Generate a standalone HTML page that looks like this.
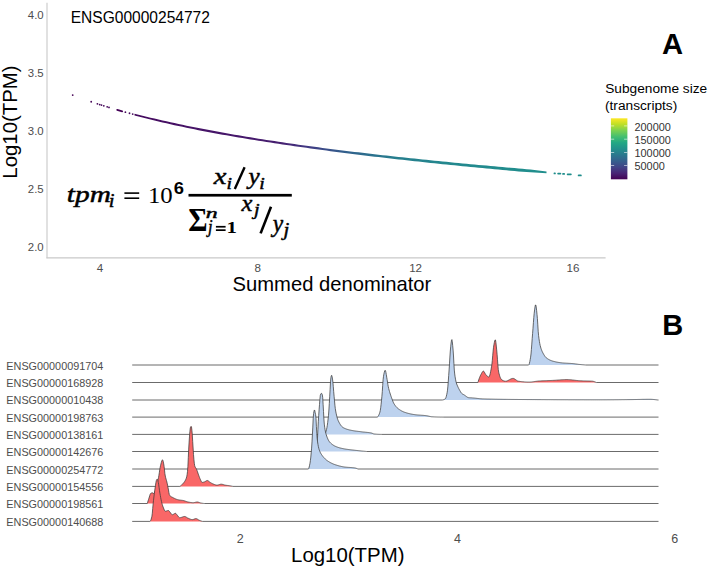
<!DOCTYPE html>
<html><head><meta charset="utf-8"><style>
html,body{margin:0;padding:0;background:#fff;}
svg{display:block;font-family:"Liberation Sans",sans-serif;}
</style></head><body>
<svg width="709" height="568" viewBox="0 0 709 568">
<defs>
<linearGradient id="vir" x1="0" y1="1" x2="0" y2="0">
<stop offset="0" stop-color="#440154"/><stop offset="0.1" stop-color="#482475"/><stop offset="0.2" stop-color="#414487"/><stop offset="0.3" stop-color="#355f8d"/><stop offset="0.4" stop-color="#2a788e"/><stop offset="0.5" stop-color="#21918c"/><stop offset="0.6" stop-color="#22a884"/><stop offset="0.7" stop-color="#44bf70"/><stop offset="0.8" stop-color="#7ad151"/><stop offset="0.9" stop-color="#bddf26"/><stop offset="1" stop-color="#fde725"/>
</linearGradient>
<linearGradient id="cg" gradientUnits="userSpaceOnUse" x1="72" y1="0" x2="582" y2="0">
<stop offset="0" stop-color="#440154"/>
<stop offset="0.22" stop-color="#461266"/>
<stop offset="0.349" stop-color="#46196c"/>
<stop offset="0.408" stop-color="#462070"/>
<stop offset="0.457" stop-color="#423782"/>
<stop offset="0.496" stop-color="#3a4d89"/>
<stop offset="0.535" stop-color="#325f8c"/>
<stop offset="0.584" stop-color="#2c708e"/>
<stop offset="0.633" stop-color="#277e8e"/>
<stop offset="0.741" stop-color="#23888e"/>
<stop offset="1" stop-color="#1f918c"/>
</linearGradient>
</defs>
<rect width="709" height="568" fill="#fff"/>
<!-- Panel A -->
<line x1="47" y1="2.7" x2="47" y2="258.3" stroke="#c9c9c9" stroke-width="1.1"/>
<line x1="46.45" y1="257.9" x2="605.6" y2="257.9" stroke="#c9c9c9" stroke-width="1.1"/>
<g fill="#4d4d4d" font-size="11.4" text-anchor="end">
<text x="43.7" y="19.4">4.0</text>
<text x="43.7" y="77.4">3.5</text>
<text x="43.7" y="135.4">3.0</text>
<text x="43.7" y="193.4">2.5</text>
<text x="43.7" y="251.4">2.0</text>
</g>
<g fill="#4d4d4d" font-size="11.6" text-anchor="middle">
<text x="100.1" y="271.6">4</text>
<text x="257.7" y="271.6">8</text>
<text x="415.6" y="271.6">12</text>
<text x="573" y="271.6">16</text>
</g>
<text x="232.6" y="290.6" font-size="20.2" fill="#000">Summed denominator</text>
<text transform="translate(16.9,178.7) rotate(-90)" font-size="20.4" fill="#000">Log10(TPM)</text>
<text x="70.7" y="23.2" font-size="15.6" textLength="139.2" lengthAdjust="spacingAndGlyphs" fill="#000">ENSG00000254772</text>
<text x="661.9" y="53.9" font-size="29.2" font-weight="bold" fill="#000">A</text>
<text x="605.2" y="92.8" font-size="13.7" fill="#000">Subgenome size</text>
<text x="605.0" y="110.2" font-size="13.7" fill="#000">(transcripts)</text>
<rect x="610.9" y="118.3" width="16.5" height="61" fill="url(#vir)"/>
<g stroke="#fff" stroke-width="0.8" stroke-opacity="0.7">
<line x1="610.9" y1="125.9" x2="614.2" y2="125.9"/><line x1="624.1" y1="125.9" x2="627.4" y2="125.9"/>
<line x1="610.9" y1="139.2" x2="614.2" y2="139.2"/><line x1="624.1" y1="139.2" x2="627.4" y2="139.2"/>
<line x1="610.9" y1="152.5" x2="614.2" y2="152.5"/><line x1="624.1" y1="152.5" x2="627.4" y2="152.5"/>
<line x1="610.9" y1="165.5" x2="614.2" y2="165.5"/><line x1="624.1" y1="165.5" x2="627.4" y2="165.5"/>
</g>
<g fill="#333" font-size="10.9">
<text x="634.5" y="130.9">200000</text>
<text x="634.5" y="143.9">150000</text>
<text x="634.5" y="156.9">100000</text>
<text x="634.5" y="169.9">50000</text>
</g>
<path d="M134.5,113.65 L138.5,114.68 L142.5,115.69 L146.5,116.68 L150.5,117.65 L154.5,118.61 L158.5,119.54 L162.5,120.46 L166.5,121.36 L170.5,122.24 L174.5,123.11 L178.5,123.97 L182.5,124.81 L186.5,125.64 L190.5,126.45 L194.5,127.25 L198.5,128.04 L202.5,128.81 L206.5,129.58 L210.5,130.34 L214.5,131.09 L218.5,131.82 L222.5,132.55 L226.5,133.26 L230.5,133.96 L234.5,134.66 L238.5,135.34 L242.5,136.02 L246.5,136.69 L250.5,137.35 L254.5,138 L258.5,138.64 L262.5,139.27 L266.5,139.9 L270.5,140.51 L274.5,141.12 L278.5,141.73 L282.5,142.32 L286.5,142.91 L290.5,143.5 L294.5,144.07 L298.5,144.64 L302.5,145.2 L306.5,145.75 L310.5,146.29 L314.5,146.83 L318.5,147.36 L322.5,147.88 L326.5,148.4 L330.5,148.91 L334.5,149.42 L338.5,149.93 L342.5,150.42 L346.5,150.92 L350.5,151.41 L354.5,151.89 L358.5,152.37 L362.5,152.84 L366.5,153.31 L370.5,153.78 L374.5,154.24 L378.5,154.69 L382.5,155.14 L386.5,155.59 L390.5,156.04 L394.5,156.48 L398.5,156.91 L402.5,157.34 L406.5,157.77 L410.5,158.2 L414.5,158.62 L418.5,159.03 L422.5,159.45 L426.5,159.86 L430.5,160.26 L434.5,160.67 L438.5,161.07 L442.5,161.46 L446.5,161.86 L450.5,162.25 L454.5,162.63 L458.5,163.02 L462.5,163.4 L466.5,163.78 L470.5,164.15 L474.5,164.52 L478.5,164.89 L482.5,165.26 L486.5,165.62 L490.5,165.98 L494.5,166.34 L498.5,166.7 L502.5,167.05 L506.5,167.4 L510.5,167.75 L514.5,168.1 L518.5,168.44 L522.5,168.78 L526.5,169.16 L530.5,169.61 L534.5,170.05 L538.5,170.5 L542.5,170.94 L546.5,171.38 L546.5,173.26 L542.5,173.03 L538.5,172.79 L534.5,172.56 L530.5,172.32 L526.5,172.08 L522.5,171.77 L518.5,171.41 L514.5,171.05 L510.5,170.69 L506.5,170.33 L502.5,169.96 L498.5,169.59 L494.5,169.22 L490.5,168.85 L486.5,168.47 L482.5,168.09 L478.5,167.71 L474.5,167.32 L470.5,166.93 L466.5,166.54 L462.5,166.15 L458.5,165.75 L454.5,165.35 L450.5,164.95 L446.5,164.54 L442.5,164.13 L438.5,163.72 L434.5,163.3 L430.5,162.89 L426.5,162.46 L422.5,162.04 L418.5,161.61 L414.5,161.17 L410.5,160.74 L406.5,160.3 L402.5,159.85 L398.5,159.41 L394.5,158.95 L390.5,158.5 L386.5,158.04 L382.5,157.57 L378.5,157.11 L374.5,156.63 L370.5,156.16 L366.5,155.68 L362.5,155.19 L358.5,154.7 L354.5,154.21 L350.5,153.71 L346.5,153.2 L342.5,152.69 L338.5,152.18 L334.5,151.66 L330.5,151.14 L326.5,150.61 L322.5,150.07 L318.5,149.53 L314.5,148.98 L310.5,148.43 L306.5,147.87 L302.5,147.31 L298.5,146.74 L294.5,146.17 L290.5,145.6 L286.5,145.01 L282.5,144.42 L278.5,143.83 L274.5,143.22 L270.5,142.61 L266.5,142 L262.5,141.37 L258.5,140.74 L254.5,140.1 L250.5,139.45 L246.5,138.79 L242.5,138.12 L238.5,137.44 L234.5,136.76 L230.5,136.06 L226.5,135.36 L222.5,134.65 L218.5,133.92 L214.5,133.19 L210.5,132.44 L206.5,131.68 L202.5,130.91 L198.5,130.13 L194.5,129.33 L190.5,128.52 L186.5,127.7 L182.5,126.86 L178.5,126 L174.5,125.14 L170.5,124.26 L166.5,123.36 L162.5,122.44 L158.5,121.51 L154.5,120.57 L150.5,119.6 L146.5,118.62 L142.5,117.62 L138.5,116.59 L134.5,115.55 Z" fill="url(#cg)"/>
<g fill="url(#cg)"><circle cx="72.7" cy="95.04" r="0.9"/><circle cx="91.2" cy="101.73" r="0.9"/><circle cx="97.4" cy="103.79" r="0.9"/><circle cx="99.7" cy="104.53" r="0.9"/><circle cx="101.5" cy="105.1" r="0.9"/><circle cx="103.8" cy="105.82" r="0.9"/><circle cx="107.2" cy="106.87" r="0.9"/><circle cx="109" cy="107.42" r="0.9"/><circle cx="125.4" cy="112.15" r="0.9"/><circle cx="129.5" cy="113.27" r="0.9"/><circle cx="132.7" cy="114.12" r="0.9"/><line x1="117.2" y1="109.84" x2="122.2" y2="111.26" stroke="#450257" stroke-width="1.8" stroke-linecap="round"/></g>
<g stroke="#1f8d8b" stroke-width="1.7" stroke-linecap="round">
<line x1="554.4" y1="173.4" x2="555" y2="173.4"/>
<line x1="558.1" y1="173.6" x2="560.4" y2="173.6"/>
<line x1="563" y1="173.9" x2="564.2" y2="173.9"/>
<line x1="567.6" y1="174.3" x2="570.9" y2="174.4"/>
<line x1="578.6" y1="175.4" x2="580.9" y2="175.4"/>
</g>
<g fill="#000">
<text transform="translate(66.81,202.3) scale(1.31,1)" font-size="22.4" font-family="Liberation Serif" font-style="italic" stroke="#000" stroke-width="0.45">tpm</text>
<text transform="translate(108.67,207) scale(1.15,1)" font-size="17.97" font-family="Liberation Serif" font-style="italic" stroke="#000" stroke-width="0.45">i</text>
<rect x="124.4" y="192.3" width="14.8" height="1.6"/><rect x="124.4" y="197.4" width="14.8" height="1.6"/>
<text transform="translate(147.92,202.77) scale(1.06,1)" font-size="23.41" font-family="Liberation Serif">10</text>
<text transform="translate(173.63,194.45) scale(1.17,1)" font-size="15.68" font-family="Liberation Sans" font-weight="bold">6</text>
<rect x="188.5" y="193.9" width="103.3" height="2.7"/>
<text transform="translate(213.75,184.3) scale(1.26,1)" font-size="22.66" font-family="Liberation Serif" font-style="italic" stroke="#000" stroke-width="0.45">x</text>
<text transform="translate(226.42,189.2) scale(1.15,1)" font-size="17.07" font-family="Liberation Serif" font-style="italic" stroke="#000" stroke-width="0.45">i</text>
<line x1="234.8" y1="189" x2="244.6" y2="167.2" stroke="#000" stroke-width="2.4"/>
<text transform="translate(248.6,184.31) scale(1.11,1)" font-size="22.67" font-family="Liberation Serif" font-style="italic" stroke="#000" stroke-width="0.45">y</text>
<text transform="translate(259.27,189.2) scale(1.15,1)" font-size="17.07" font-family="Liberation Serif" font-style="italic" stroke="#000" stroke-width="0.45">i</text>
<text transform="translate(188.23,230.6) scale(0.88,1)" font-size="33.6" font-family="Liberation Serif" font-weight="bold">Σ</text>
<text transform="translate(205.75,217.9) scale(1.56,1)" font-size="15.28" font-family="Liberation Serif" font-style="italic" stroke="#000" stroke-width="0.45">n</text>
<text transform="translate(207.95,232.98) scale(0.89,1)" font-size="18.4" font-family="Liberation Serif" font-style="italic" stroke="#000" stroke-width="0.45">j</text>
<rect x="215.9" y="225.9" width="9.7" height="1.7"/><rect x="215.9" y="229.3" width="9.7" height="1.7"/>
<text transform="translate(226.43,233.1) scale(1.26,1)" font-size="16.66" font-family="Liberation Serif" font-weight="bold">1</text>
<text transform="translate(241.6,210.8) scale(1.02,1)" font-size="23.97" font-family="Liberation Serif" font-style="italic" stroke="#000" stroke-width="0.45">x</text>
<text transform="translate(253.88,214.98) scale(1.15,1)" font-size="17.49" font-family="Liberation Serif" font-style="italic" stroke="#000" stroke-width="0.45">j</text>
<line x1="260.6" y1="233.4" x2="271" y2="206.8" stroke="#000" stroke-width="2.6"/>
<text transform="translate(272.66,231.59) scale(0.97,1)" font-size="24.16" font-family="Liberation Serif" font-style="italic" stroke="#000" stroke-width="0.45">y</text>
<text transform="translate(283.53,236.46) scale(1.15,1)" font-size="18.06" font-family="Liberation Serif" font-style="italic" stroke="#000" stroke-width="0.45">j</text>
</g>
<!-- Panel B -->
<text x="662.3" y="334.6" font-size="29" font-weight="bold" fill="#000">B</text>
<path d="M528.6,365 L529,364.57 L529.4,363.38 L529.8,361.64 L530.2,359.52 L530.6,357.2 L531,353.98 L531.4,349.41 L531.8,344.1 L532.2,338.64 L532.6,333.56 L533,328.21 L533.4,322.65 L533.8,317.46 L534.2,313.24 L534.6,309.96 L535,306.93 L535.4,304.99 L535.8,304.99 L536.2,307 L536.6,310.35 L537,314.31 L537.4,318.65 L537.8,324.89 L538.2,331.28 L538.6,335.65 L539,338.75 L539.4,341.41 L539.8,343.65 L540.2,345.52 L540.6,347.06 L541,348.38 L541.4,349.55 L541.8,350.59 L542.2,351.51 L542.6,352.35 L543,353.12 L543.4,353.84 L543.8,354.53 L544.2,355.19 L544.6,355.81 L545,356.38 L545.4,356.9 L545.8,357.35 L546.2,357.74 L546.6,358.05 L547,358.35 L547.4,358.63 L547.8,358.89 L548.2,359.14 L548.6,359.38 L549,359.6 L549.4,359.81 L549.8,360.01 L550.2,360.2 L550.6,360.37 L551,360.53 L551.4,360.69 L551.8,360.83 L552.2,360.96 L552.6,361.09 L553,361.2 L553.4,361.31 L553.8,361.41 L554.2,361.52 L554.6,361.62 L555,361.71 L555.4,361.8 L555.8,361.89 L556.2,361.98 L556.6,362.06 L557,362.14 L557.4,362.22 L557.8,362.29 L558.2,362.36 L558.6,362.43 L559,362.49 L559.4,362.55 L559.8,362.61 L560.2,362.67 L560.6,362.72 L561,362.77 L561.4,362.82 L561.8,362.86 L562.2,362.9 L562.6,362.94 L563,362.97 L563.4,363.01 L563.8,363.04 L564.2,363.07 L564.6,363.09 L565,363.12 L565.4,363.15 L565.8,363.17 L566.2,363.19 L566.6,363.21 L567,363.24 L567.4,363.26 L567.8,363.28 L568.2,363.3 L568.6,363.32 L569,363.34 L569.4,363.36 L569.8,363.38 L570.2,363.41 L570.6,363.43 L571,363.46 L571.4,363.49 L571.8,363.52 L572.2,363.55 L572.6,363.58 L573,363.62 L573.4,363.66 L573.8,363.7 L574.2,363.75 L574.6,363.81 L575,363.86 L575.4,363.92 L575.8,363.98 L576.2,364.03 L576.6,364.09 L577,364.15 L577.4,364.2 L577.8,364.26 L578.2,364.31 L578.6,364.36 L579,364.4 L579.4,364.44 L579.8,364.48 L580.2,364.52 L580.6,364.56 L581,364.6 L581.4,364.64 L581.8,364.67 L582.2,364.71 L582.6,364.74 L583,364.78 L583.4,364.81 L583.8,364.84 L584.2,364.87 L584.6,364.9 L585,364.93 L585.4,364.96 L585.8,364.99 L586,365 Z" fill="#bdd2ee"/>
<path d="M132.2,365 L528.6,365 L529,364.57 L529.4,363.38 L529.8,361.64 L530.2,359.52 L530.6,357.2 L531,353.98 L531.4,349.41 L531.8,344.1 L532.2,338.64 L532.6,333.56 L533,328.21 L533.4,322.65 L533.8,317.46 L534.2,313.24 L534.6,309.96 L535,306.93 L535.4,304.99 L535.8,304.99 L536.2,307 L536.6,310.35 L537,314.31 L537.4,318.65 L537.8,324.89 L538.2,331.28 L538.6,335.65 L539,338.75 L539.4,341.41 L539.8,343.65 L540.2,345.52 L540.6,347.06 L541,348.38 L541.4,349.55 L541.8,350.59 L542.2,351.51 L542.6,352.35 L543,353.12 L543.4,353.84 L543.8,354.53 L544.2,355.19 L544.6,355.81 L545,356.38 L545.4,356.9 L545.8,357.35 L546.2,357.74 L546.6,358.05 L547,358.35 L547.4,358.63 L547.8,358.89 L548.2,359.14 L548.6,359.38 L549,359.6 L549.4,359.81 L549.8,360.01 L550.2,360.2 L550.6,360.37 L551,360.53 L551.4,360.69 L551.8,360.83 L552.2,360.96 L552.6,361.09 L553,361.2 L553.4,361.31 L553.8,361.41 L554.2,361.52 L554.6,361.62 L555,361.71 L555.4,361.8 L555.8,361.89 L556.2,361.98 L556.6,362.06 L557,362.14 L557.4,362.22 L557.8,362.29 L558.2,362.36 L558.6,362.43 L559,362.49 L559.4,362.55 L559.8,362.61 L560.2,362.67 L560.6,362.72 L561,362.77 L561.4,362.82 L561.8,362.86 L562.2,362.9 L562.6,362.94 L563,362.97 L563.4,363.01 L563.8,363.04 L564.2,363.07 L564.6,363.09 L565,363.12 L565.4,363.15 L565.8,363.17 L566.2,363.19 L566.6,363.21 L567,363.24 L567.4,363.26 L567.8,363.28 L568.2,363.3 L568.6,363.32 L569,363.34 L569.4,363.36 L569.8,363.38 L570.2,363.41 L570.6,363.43 L571,363.46 L571.4,363.49 L571.8,363.52 L572.2,363.55 L572.6,363.58 L573,363.62 L573.4,363.66 L573.8,363.7 L574.2,363.75 L574.6,363.81 L575,363.86 L575.4,363.92 L575.8,363.98 L576.2,364.03 L576.6,364.09 L577,364.15 L577.4,364.2 L577.8,364.26 L578.2,364.31 L578.6,364.36 L579,364.4 L579.4,364.44 L579.8,364.48 L580.2,364.52 L580.6,364.56 L581,364.6 L581.4,364.64 L581.8,364.67 L582.2,364.71 L582.6,364.74 L583,364.78 L583.4,364.81 L583.8,364.84 L584.2,364.87 L584.6,364.9 L585,364.93 L585.4,364.96 L585.8,364.99 L586,365 L658.5,365" fill="none" stroke="#3a3a3a" stroke-width="0.75" stroke-linejoin="round"/>
<path d="M477.9,382.5 L478.3,381.21 L478.7,379.98 L479.1,378.81 L479.5,377.72 L479.9,376.72 L480.3,375.8 L480.7,374.98 L481.1,374.23 L481.5,373.46 L481.9,372.72 L482.3,372.05 L482.7,371.51 L483.1,371.18 L483.5,371.11 L483.9,371.41 L484.3,371.99 L484.7,372.73 L485.1,373.51 L485.5,374.21 L485.9,374.71 L486.3,375.14 L486.7,375.58 L487.1,376 L487.5,376.37 L487.9,376.68 L488.3,376.89 L488.7,377 L489.1,376.82 L489.5,376.08 L489.9,374.84 L490.3,373.21 L490.7,371.27 L491.1,369.12 L491.5,366.85 L491.9,364.32 L492.3,360.46 L492.7,355.8 L493.1,351.16 L493.5,347.35 L493.9,344.88 L494.3,342.71 L494.7,340.91 L495.1,339.85 L495.5,340.05 L495.9,342.42 L496.3,346.08 L496.7,349.9 L497.1,354.29 L497.5,359.73 L497.9,365.18 L498.3,369.64 L498.7,372.14 L499.1,373.79 L499.5,375.25 L499.9,376.51 L500.3,377.56 L500.7,378.42 L501.1,379.07 L501.5,379.52 L501.9,379.81 L502.3,380.08 L502.7,380.33 L503.1,380.54 L503.5,380.74 L503.9,380.9 L504.3,381.03 L504.7,381.12 L505.1,381.18 L505.5,381.2 L505.9,381.18 L506.3,381.11 L506.7,381.01 L507.1,380.87 L507.5,380.71 L507.9,380.52 L508.3,380.32 L508.7,380.11 L509.1,379.88 L509.5,379.66 L509.9,379.44 L510.3,379.23 L510.7,379.03 L511.1,378.85 L511.5,378.69 L511.9,378.56 L512.3,378.47 L512.7,378.41 L513.1,378.4 L513.5,378.46 L513.9,378.59 L514.3,378.77 L514.7,379 L515.1,379.26 L515.5,379.55 L515.9,379.84 L516.3,380.14 L516.7,380.42 L517.1,380.67 L517.5,380.9 L517.9,381.07 L518.3,381.18 L518.7,381.25 L519.1,381.31 L519.5,381.36 L519.9,381.42 L520.3,381.48 L520.7,381.53 L521.1,381.58 L521.5,381.63 L521.9,381.67 L522.3,381.72 L522.7,381.76 L523.1,381.8 L523.5,381.83 L523.9,381.87 L524.3,381.9 L524.7,381.93 L525.1,381.96 L525.5,381.99 L525.9,382.01 L526.3,382.03 L526.7,382.05 L527.1,382.06 L527.5,382.08 L527.9,382.09 L528.3,382.09 L528.7,382.1 L529.1,382.1 L529.5,382.1 L529.9,382.09 L530.3,382.07 L530.7,382.04 L531.1,382.01 L531.5,381.98 L531.9,381.93 L532.3,381.89 L532.7,381.84 L533.1,381.78 L533.5,381.73 L533.9,381.67 L534.3,381.61 L534.7,381.55 L535.1,381.48 L535.5,381.42 L535.9,381.36 L536.3,381.31 L536.7,381.25 L537.1,381.2 L537.5,381.15 L537.9,381.1 L538.3,381.06 L538.7,381.03 L539.1,381 L539.5,380.97 L539.9,380.95 L540.3,380.93 L540.7,380.91 L541.1,380.88 L541.5,380.86 L541.9,380.84 L542.3,380.83 L542.7,380.81 L543.1,380.79 L543.5,380.77 L543.9,380.76 L544.3,380.74 L544.7,380.72 L545.1,380.71 L545.5,380.69 L545.9,380.68 L546.3,380.66 L546.7,380.65 L547.1,380.63 L547.5,380.62 L547.9,380.61 L548.3,380.59 L548.7,380.58 L549.1,380.56 L549.5,380.55 L549.9,380.53 L550.3,380.52 L550.7,380.5 L551.1,380.48 L551.5,380.47 L551.9,380.45 L552.3,380.43 L552.7,380.41 L553.1,380.39 L553.5,380.37 L553.9,380.35 L554.3,380.32 L554.7,380.3 L555.1,380.27 L555.5,380.24 L555.9,380.21 L556.3,380.18 L556.7,380.15 L557.1,380.12 L557.5,380.09 L557.9,380.06 L558.3,380.03 L558.7,380 L559.1,379.97 L559.5,379.94 L559.9,379.91 L560.3,379.88 L560.7,379.85 L561.1,379.82 L561.5,379.8 L561.9,379.77 L562.3,379.75 L562.7,379.73 L563.1,379.7 L563.5,379.68 L563.9,379.67 L564.3,379.65 L564.7,379.64 L565.1,379.62 L565.5,379.61 L565.9,379.61 L566.3,379.6 L566.7,379.6 L567.1,379.6 L567.5,379.61 L567.9,379.62 L568.3,379.63 L568.7,379.65 L569.1,379.67 L569.5,379.7 L569.9,379.73 L570.3,379.76 L570.7,379.8 L571.1,379.83 L571.5,379.87 L571.9,379.91 L572.3,379.96 L572.7,380 L573.1,380.05 L573.5,380.09 L573.9,380.14 L574.3,380.19 L574.7,380.24 L575.1,380.28 L575.5,380.33 L575.9,380.38 L576.3,380.42 L576.7,380.47 L577.1,380.51 L577.5,380.56 L577.9,380.6 L578.3,380.63 L578.7,380.67 L579.1,380.7 L579.5,380.73 L579.9,380.76 L580.3,380.78 L580.7,380.8 L581.1,380.82 L581.5,380.84 L581.9,380.85 L582.3,380.87 L582.7,380.88 L583.1,380.89 L583.5,380.9 L583.9,380.91 L584.3,380.92 L584.7,380.93 L585.1,380.94 L585.5,380.95 L585.9,380.95 L586.3,380.96 L586.7,380.97 L587.1,380.98 L587.5,380.99 L587.9,381 L588.3,381.01 L588.7,381.02 L589.1,381.03 L589.5,381.05 L589.9,381.06 L590.3,381.08 L590.7,381.1 L591.1,381.12 L591.5,381.14 L591.9,381.17 L592.3,381.19 L592.7,381.23 L593.1,381.3 L593.5,381.39 L593.9,381.51 L594.3,381.65 L594.7,381.8 L595.1,381.96 L595.5,382.13 L595.9,382.3 L596.3,382.46 L596.4,382.5 Z" fill="#f96767"/>
<path d="M132.2,382.5 L477.9,382.5 L478.3,381.21 L478.7,379.98 L479.1,378.81 L479.5,377.72 L479.9,376.72 L480.3,375.8 L480.7,374.98 L481.1,374.23 L481.5,373.46 L481.9,372.72 L482.3,372.05 L482.7,371.51 L483.1,371.18 L483.5,371.11 L483.9,371.41 L484.3,371.99 L484.7,372.73 L485.1,373.51 L485.5,374.21 L485.9,374.71 L486.3,375.14 L486.7,375.58 L487.1,376 L487.5,376.37 L487.9,376.68 L488.3,376.89 L488.7,377 L489.1,376.82 L489.5,376.08 L489.9,374.84 L490.3,373.21 L490.7,371.27 L491.1,369.12 L491.5,366.85 L491.9,364.32 L492.3,360.46 L492.7,355.8 L493.1,351.16 L493.5,347.35 L493.9,344.88 L494.3,342.71 L494.7,340.91 L495.1,339.85 L495.5,340.05 L495.9,342.42 L496.3,346.08 L496.7,349.9 L497.1,354.29 L497.5,359.73 L497.9,365.18 L498.3,369.64 L498.7,372.14 L499.1,373.79 L499.5,375.25 L499.9,376.51 L500.3,377.56 L500.7,378.42 L501.1,379.07 L501.5,379.52 L501.9,379.81 L502.3,380.08 L502.7,380.33 L503.1,380.54 L503.5,380.74 L503.9,380.9 L504.3,381.03 L504.7,381.12 L505.1,381.18 L505.5,381.2 L505.9,381.18 L506.3,381.11 L506.7,381.01 L507.1,380.87 L507.5,380.71 L507.9,380.52 L508.3,380.32 L508.7,380.11 L509.1,379.88 L509.5,379.66 L509.9,379.44 L510.3,379.23 L510.7,379.03 L511.1,378.85 L511.5,378.69 L511.9,378.56 L512.3,378.47 L512.7,378.41 L513.1,378.4 L513.5,378.46 L513.9,378.59 L514.3,378.77 L514.7,379 L515.1,379.26 L515.5,379.55 L515.9,379.84 L516.3,380.14 L516.7,380.42 L517.1,380.67 L517.5,380.9 L517.9,381.07 L518.3,381.18 L518.7,381.25 L519.1,381.31 L519.5,381.36 L519.9,381.42 L520.3,381.48 L520.7,381.53 L521.1,381.58 L521.5,381.63 L521.9,381.67 L522.3,381.72 L522.7,381.76 L523.1,381.8 L523.5,381.83 L523.9,381.87 L524.3,381.9 L524.7,381.93 L525.1,381.96 L525.5,381.99 L525.9,382.01 L526.3,382.03 L526.7,382.05 L527.1,382.06 L527.5,382.08 L527.9,382.09 L528.3,382.09 L528.7,382.1 L529.1,382.1 L529.5,382.1 L529.9,382.09 L530.3,382.07 L530.7,382.04 L531.1,382.01 L531.5,381.98 L531.9,381.93 L532.3,381.89 L532.7,381.84 L533.1,381.78 L533.5,381.73 L533.9,381.67 L534.3,381.61 L534.7,381.55 L535.1,381.48 L535.5,381.42 L535.9,381.36 L536.3,381.31 L536.7,381.25 L537.1,381.2 L537.5,381.15 L537.9,381.1 L538.3,381.06 L538.7,381.03 L539.1,381 L539.5,380.97 L539.9,380.95 L540.3,380.93 L540.7,380.91 L541.1,380.88 L541.5,380.86 L541.9,380.84 L542.3,380.83 L542.7,380.81 L543.1,380.79 L543.5,380.77 L543.9,380.76 L544.3,380.74 L544.7,380.72 L545.1,380.71 L545.5,380.69 L545.9,380.68 L546.3,380.66 L546.7,380.65 L547.1,380.63 L547.5,380.62 L547.9,380.61 L548.3,380.59 L548.7,380.58 L549.1,380.56 L549.5,380.55 L549.9,380.53 L550.3,380.52 L550.7,380.5 L551.1,380.48 L551.5,380.47 L551.9,380.45 L552.3,380.43 L552.7,380.41 L553.1,380.39 L553.5,380.37 L553.9,380.35 L554.3,380.32 L554.7,380.3 L555.1,380.27 L555.5,380.24 L555.9,380.21 L556.3,380.18 L556.7,380.15 L557.1,380.12 L557.5,380.09 L557.9,380.06 L558.3,380.03 L558.7,380 L559.1,379.97 L559.5,379.94 L559.9,379.91 L560.3,379.88 L560.7,379.85 L561.1,379.82 L561.5,379.8 L561.9,379.77 L562.3,379.75 L562.7,379.73 L563.1,379.7 L563.5,379.68 L563.9,379.67 L564.3,379.65 L564.7,379.64 L565.1,379.62 L565.5,379.61 L565.9,379.61 L566.3,379.6 L566.7,379.6 L567.1,379.6 L567.5,379.61 L567.9,379.62 L568.3,379.63 L568.7,379.65 L569.1,379.67 L569.5,379.7 L569.9,379.73 L570.3,379.76 L570.7,379.8 L571.1,379.83 L571.5,379.87 L571.9,379.91 L572.3,379.96 L572.7,380 L573.1,380.05 L573.5,380.09 L573.9,380.14 L574.3,380.19 L574.7,380.24 L575.1,380.28 L575.5,380.33 L575.9,380.38 L576.3,380.42 L576.7,380.47 L577.1,380.51 L577.5,380.56 L577.9,380.6 L578.3,380.63 L578.7,380.67 L579.1,380.7 L579.5,380.73 L579.9,380.76 L580.3,380.78 L580.7,380.8 L581.1,380.82 L581.5,380.84 L581.9,380.85 L582.3,380.87 L582.7,380.88 L583.1,380.89 L583.5,380.9 L583.9,380.91 L584.3,380.92 L584.7,380.93 L585.1,380.94 L585.5,380.95 L585.9,380.95 L586.3,380.96 L586.7,380.97 L587.1,380.98 L587.5,380.99 L587.9,381 L588.3,381.01 L588.7,381.02 L589.1,381.03 L589.5,381.05 L589.9,381.06 L590.3,381.08 L590.7,381.1 L591.1,381.12 L591.5,381.14 L591.9,381.17 L592.3,381.19 L592.7,381.23 L593.1,381.3 L593.5,381.39 L593.9,381.51 L594.3,381.65 L594.7,381.8 L595.1,381.96 L595.5,382.13 L595.9,382.3 L596.3,382.46 L596.4,382.5 L658.5,382.5" fill="none" stroke="#3a3a3a" stroke-width="0.75" stroke-linejoin="round"/>
<path d="M441.9,400 L442.3,399.98 L442.7,399.93 L443.1,399.85 L443.5,399.73 L443.9,399.59 L444.3,399.41 L444.7,399.2 L445.1,398.96 L445.5,398.56 L445.9,397.67 L446.3,396.37 L446.7,394.73 L447.1,392.81 L447.5,390.23 L447.9,386.14 L448.3,381.03 L448.7,375.43 L449.1,369.9 L449.5,363.79 L449.9,357.04 L450.3,351.06 L450.7,346.82 L451.1,343.01 L451.5,340.24 L451.9,339.6 L452.3,341.73 L452.7,345.65 L453.1,350.1 L453.5,355.99 L453.9,363.46 L454.3,370.07 L454.7,373.94 L455.1,376.81 L455.5,379.19 L455.9,381.15 L456.3,382.75 L456.7,384.02 L457.1,385.02 L457.5,385.93 L457.9,386.81 L458.3,387.66 L458.7,388.46 L459.1,389.22 L459.5,389.95 L459.9,390.65 L460.3,391.37 L460.7,392.06 L461.1,392.69 L461.5,393.2 L461.9,393.57 L462.3,393.87 L462.7,394.12 L463.1,394.35 L463.5,394.56 L463.9,394.77 L464.3,395 L464.7,395.26 L465.1,395.55 L465.5,395.86 L465.9,396.17 L466.3,396.48 L466.7,396.78 L467.1,397.05 L467.5,397.29 L467.9,397.48 L468.3,397.62 L468.7,397.7 L469.1,397.74 L469.5,397.77 L469.9,397.79 L470.3,397.81 L470.7,397.83 L471.1,397.84 L471.5,397.86 L471.9,397.88 L472.3,397.91 L472.7,397.94 L473.1,397.97 L473.5,398.01 L473.9,398.04 L474.3,398.08 L474.7,398.13 L475.1,398.17 L475.5,398.21 L475.9,398.26 L476.3,398.31 L476.7,398.35 L477.1,398.4 L477.5,398.45 L477.9,398.49 L478.3,398.54 L478.7,398.58 L479.1,398.63 L479.5,398.67 L479.9,398.71 L480.3,398.74 L480.7,398.78 L481.1,398.81 L481.5,398.84 L481.9,398.86 L482.3,398.88 L482.7,398.9 L483.1,398.91 L483.5,398.92 L483.9,398.93 L484.3,398.95 L484.7,398.96 L485.1,398.97 L485.5,398.98 L485.9,398.99 L486.3,399 L486.7,399.02 L487.1,399.03 L487.5,399.04 L487.9,399.05 L488.3,399.06 L488.7,399.07 L489.1,399.08 L489.5,399.09 L489.9,399.1 L490.3,399.11 L490.7,399.12 L491.1,399.13 L491.5,399.13 L491.9,399.14 L492.3,399.15 L492.7,399.16 L493.1,399.17 L493.5,399.18 L493.9,399.19 L494.3,399.19 L494.7,399.2 L495.1,399.21 L495.5,399.22 L495.9,399.23 L496.3,399.23 L496.7,399.24 L497.1,399.25 L497.5,399.25 L497.9,399.26 L498.3,399.27 L498.7,399.27 L499.1,399.28 L499.5,399.29 L499.9,399.29 L500.3,399.3 L500.7,399.31 L501.1,399.31 L501.5,399.32 L501.9,399.32 L502.3,399.33 L502.7,399.34 L503.1,399.34 L503.5,399.35 L503.9,399.35 L504.3,399.36 L504.7,399.36 L505.1,399.37 L505.5,399.37 L505.9,399.38 L506.3,399.38 L506.7,399.39 L507.1,399.39 L507.5,399.39 L507.9,399.4 L508.3,399.4 L508.7,399.41 L509.1,399.41 L509.5,399.42 L509.9,399.42 L510.3,399.42 L510.7,399.43 L511.1,399.43 L511.5,399.43 L511.9,399.44 L512.3,399.44 L512.7,399.45 L513.1,399.45 L513.5,399.45 L513.9,399.46 L514.3,399.46 L514.7,399.46 L515.1,399.46 L515.5,399.47 L515.9,399.47 L516.3,399.47 L516.7,399.48 L517.1,399.48 L517.5,399.48 L517.9,399.49 L518.3,399.49 L518.7,399.49 L519.1,399.49 L519.5,399.5 L519.9,399.5 L520.3,399.5 L520.7,399.5 L521.1,399.51 L521.5,399.51 L521.9,399.51 L522.3,399.52 L522.7,399.52 L523.1,399.52 L523.5,399.52 L523.9,399.53 L524.3,399.53 L524.7,399.53 L525.1,399.53 L525.5,399.54 L525.9,399.54 L526.3,399.54 L526.7,399.54 L527.1,399.55 L527.5,399.55 L527.9,399.55 L528.3,399.55 L528.7,399.56 L529.1,399.56 L529.5,399.56 L529.9,399.56 L530.3,399.57 L530.7,399.57 L531.1,399.57 L531.5,399.57 L531.9,399.57 L532.3,399.58 L532.7,399.58 L533.1,399.58 L533.5,399.58 L533.9,399.59 L534.3,399.59 L534.7,399.59 L535.1,399.59 L535.5,399.6 L535.9,399.6 L536.3,399.6 L536.7,399.6 L537.1,399.6 L537.5,399.61 L537.9,399.61 L538.3,399.61 L538.7,399.61 L539.1,399.62 L539.5,399.62 L539.9,399.62 L540.3,399.62 L540.7,399.62 L541.1,399.63 L541.5,399.63 L541.9,399.63 L542.3,399.63 L542.7,399.64 L543.1,399.64 L543.5,399.64 L543.9,399.64 L544.3,399.64 L544.7,399.65 L545.1,399.65 L545.5,399.65 L545.9,399.65 L546.3,399.65 L546.7,399.66 L547.1,399.66 L547.5,399.66 L547.9,399.66 L548.3,399.66 L548.7,399.67 L549.1,399.67 L549.5,399.67 L549.9,399.67 L550.3,399.67 L550.7,399.68 L551.1,399.68 L551.5,399.68 L551.9,399.68 L552.3,399.68 L552.7,399.68 L553.1,399.69 L553.5,399.69 L553.9,399.69 L554.3,399.69 L554.7,399.69 L555.1,399.7 L555.5,399.7 L555.9,399.7 L556.3,399.7 L556.7,399.7 L557.1,399.7 L557.5,399.71 L557.9,399.71 L558.3,399.71 L558.7,399.71 L559.1,399.71 L559.5,399.71 L559.9,399.72 L560.3,399.72 L560.7,399.72 L561.1,399.72 L561.5,399.72 L561.9,399.72 L562.3,399.72 L562.7,399.73 L563.1,399.73 L563.5,399.73 L563.9,399.73 L564.3,399.73 L564.7,399.73 L565.1,399.74 L565.5,399.74 L565.9,399.74 L566.3,399.74 L566.7,399.74 L567.1,399.74 L567.5,399.74 L567.9,399.74 L568.3,399.75 L568.7,399.75 L569.1,399.75 L569.5,399.75 L569.9,399.75 L570.3,399.75 L570.7,399.75 L571.1,399.75 L571.5,399.76 L571.9,399.76 L572.3,399.76 L572.7,399.76 L573.1,399.76 L573.5,399.76 L573.9,399.76 L574.3,399.76 L574.7,399.76 L575.1,399.77 L575.5,399.77 L575.9,399.77 L576.3,399.77 L576.7,399.77 L577.1,399.77 L577.5,399.77 L577.9,399.77 L578.3,399.77 L578.7,399.77 L579.1,399.78 L579.5,399.78 L579.9,399.78 L580.3,399.78 L580.7,399.78 L581.1,399.78 L581.5,399.78 L581.9,399.78 L582.3,399.78 L582.7,399.78 L583.1,399.78 L583.5,399.78 L583.9,399.79 L584.3,399.79 L584.7,399.79 L585.1,399.79 L585.5,399.79 L585.9,399.79 L586.3,399.79 L586.7,399.79 L587.1,399.79 L587.5,399.79 L587.9,399.79 L588.3,399.79 L588.7,399.79 L589.1,399.79 L589.5,399.79 L589.9,399.79 L590.3,399.79 L590.7,399.8 L591.1,399.8 L591.5,399.8 L591.9,399.8 L592.3,399.8 L592.7,399.8 L593.1,399.8 L593.5,399.8 L593.9,399.8 L594.3,399.8 L594.7,399.8 L595.1,399.8 L595.5,399.8 L595.9,399.8 L596.3,399.8 L596.7,399.8 L597.1,399.8 L597.5,399.8 L597.9,399.8 L598.3,399.8 L598.7,399.8 L599.1,399.8 L599.5,399.8 L599.9,399.8 L600.3,399.8 L600.7,399.8 L601.1,399.8 L601.5,399.8 L601.9,399.8 L602.3,399.8 L602.7,399.8 L603.1,399.8 L603.5,399.8 L603.9,399.79 L604.3,399.79 L604.7,399.79 L605.1,399.79 L605.5,399.79 L605.9,399.79 L606.3,399.79 L606.7,399.79 L607.1,399.78 L607.5,399.78 L607.9,399.78 L608.3,399.78 L608.7,399.78 L609.1,399.77 L609.5,399.77 L609.9,399.77 L610.3,399.77 L610.7,399.77 L611.1,399.76 L611.5,399.76 L611.9,399.76 L612.3,399.75 L612.7,399.75 L613.1,399.75 L613.5,399.75 L613.9,399.74 L614.3,399.74 L614.7,399.74 L615.1,399.73 L615.5,399.73 L615.9,399.73 L616.3,399.73 L616.7,399.72 L617.1,399.72 L617.5,399.72 L617.9,399.71 L618.3,399.71 L618.7,399.71 L619.1,399.7 L619.5,399.7 L619.9,399.69 L620.3,399.69 L620.7,399.69 L621.1,399.68 L621.5,399.68 L621.9,399.68 L622.3,399.67 L622.7,399.67 L623.1,399.67 L623.5,399.66 L623.9,399.66 L624.3,399.65 L624.7,399.65 L625.1,399.65 L625.5,399.64 L625.9,399.64 L626.3,399.64 L626.7,399.63 L627.1,399.63 L627.5,399.62 L627.9,399.62 L628.3,399.62 L628.7,399.61 L629.1,399.61 L629.5,399.6 L629.9,399.6 L630.3,399.6 L630.7,399.59 L631.1,399.59 L631.5,399.58 L631.9,399.58 L632.3,399.57 L632.7,399.57 L633.1,399.56 L633.5,399.55 L633.9,399.55 L634.3,399.54 L634.7,399.53 L635.1,399.52 L635.5,399.52 L635.9,399.51 L636.3,399.5 L636.7,399.49 L637.1,399.49 L637.5,399.48 L637.9,399.47 L638.3,399.46 L638.7,399.45 L639.1,399.44 L639.5,399.44 L639.9,399.43 L640.3,399.42 L640.7,399.41 L641.1,399.4 L641.5,399.4 L641.9,399.39 L642.3,399.38 L642.7,399.37 L643.1,399.37 L643.5,399.36 L643.9,399.35 L644.3,399.35 L644.7,399.34 L645.1,399.34 L645.5,399.33 L645.9,399.33 L646.3,399.32 L646.7,399.32 L647.1,399.31 L647.5,399.31 L647.9,399.31 L648.3,399.3 L648.7,399.3 L649.1,399.3 L649.5,399.3 L649.9,399.3 L650.3,399.3 L650.7,399.31 L651.1,399.32 L651.5,399.34 L651.9,399.36 L652.3,399.39 L652.7,399.41 L653.1,399.45 L653.5,399.48 L653.9,399.52 L654.3,399.56 L654.7,399.61 L655.1,399.65 L655.5,399.7 L655.9,399.75 L656.3,399.8 L656.7,399.84 L657.1,399.89 L657.5,399.94 L657.9,399.99 L658,400 Z" fill="#bdd2ee"/>
<path d="M132.2,400 L441.9,400 L442.3,399.98 L442.7,399.93 L443.1,399.85 L443.5,399.73 L443.9,399.59 L444.3,399.41 L444.7,399.2 L445.1,398.96 L445.5,398.56 L445.9,397.67 L446.3,396.37 L446.7,394.73 L447.1,392.81 L447.5,390.23 L447.9,386.14 L448.3,381.03 L448.7,375.43 L449.1,369.9 L449.5,363.79 L449.9,357.04 L450.3,351.06 L450.7,346.82 L451.1,343.01 L451.5,340.24 L451.9,339.6 L452.3,341.73 L452.7,345.65 L453.1,350.1 L453.5,355.99 L453.9,363.46 L454.3,370.07 L454.7,373.94 L455.1,376.81 L455.5,379.19 L455.9,381.15 L456.3,382.75 L456.7,384.02 L457.1,385.02 L457.5,385.93 L457.9,386.81 L458.3,387.66 L458.7,388.46 L459.1,389.22 L459.5,389.95 L459.9,390.65 L460.3,391.37 L460.7,392.06 L461.1,392.69 L461.5,393.2 L461.9,393.57 L462.3,393.87 L462.7,394.12 L463.1,394.35 L463.5,394.56 L463.9,394.77 L464.3,395 L464.7,395.26 L465.1,395.55 L465.5,395.86 L465.9,396.17 L466.3,396.48 L466.7,396.78 L467.1,397.05 L467.5,397.29 L467.9,397.48 L468.3,397.62 L468.7,397.7 L469.1,397.74 L469.5,397.77 L469.9,397.79 L470.3,397.81 L470.7,397.83 L471.1,397.84 L471.5,397.86 L471.9,397.88 L472.3,397.91 L472.7,397.94 L473.1,397.97 L473.5,398.01 L473.9,398.04 L474.3,398.08 L474.7,398.13 L475.1,398.17 L475.5,398.21 L475.9,398.26 L476.3,398.31 L476.7,398.35 L477.1,398.4 L477.5,398.45 L477.9,398.49 L478.3,398.54 L478.7,398.58 L479.1,398.63 L479.5,398.67 L479.9,398.71 L480.3,398.74 L480.7,398.78 L481.1,398.81 L481.5,398.84 L481.9,398.86 L482.3,398.88 L482.7,398.9 L483.1,398.91 L483.5,398.92 L483.9,398.93 L484.3,398.95 L484.7,398.96 L485.1,398.97 L485.5,398.98 L485.9,398.99 L486.3,399 L486.7,399.02 L487.1,399.03 L487.5,399.04 L487.9,399.05 L488.3,399.06 L488.7,399.07 L489.1,399.08 L489.5,399.09 L489.9,399.1 L490.3,399.11 L490.7,399.12 L491.1,399.13 L491.5,399.13 L491.9,399.14 L492.3,399.15 L492.7,399.16 L493.1,399.17 L493.5,399.18 L493.9,399.19 L494.3,399.19 L494.7,399.2 L495.1,399.21 L495.5,399.22 L495.9,399.23 L496.3,399.23 L496.7,399.24 L497.1,399.25 L497.5,399.25 L497.9,399.26 L498.3,399.27 L498.7,399.27 L499.1,399.28 L499.5,399.29 L499.9,399.29 L500.3,399.3 L500.7,399.31 L501.1,399.31 L501.5,399.32 L501.9,399.32 L502.3,399.33 L502.7,399.34 L503.1,399.34 L503.5,399.35 L503.9,399.35 L504.3,399.36 L504.7,399.36 L505.1,399.37 L505.5,399.37 L505.9,399.38 L506.3,399.38 L506.7,399.39 L507.1,399.39 L507.5,399.39 L507.9,399.4 L508.3,399.4 L508.7,399.41 L509.1,399.41 L509.5,399.42 L509.9,399.42 L510.3,399.42 L510.7,399.43 L511.1,399.43 L511.5,399.43 L511.9,399.44 L512.3,399.44 L512.7,399.45 L513.1,399.45 L513.5,399.45 L513.9,399.46 L514.3,399.46 L514.7,399.46 L515.1,399.46 L515.5,399.47 L515.9,399.47 L516.3,399.47 L516.7,399.48 L517.1,399.48 L517.5,399.48 L517.9,399.49 L518.3,399.49 L518.7,399.49 L519.1,399.49 L519.5,399.5 L519.9,399.5 L520.3,399.5 L520.7,399.5 L521.1,399.51 L521.5,399.51 L521.9,399.51 L522.3,399.52 L522.7,399.52 L523.1,399.52 L523.5,399.52 L523.9,399.53 L524.3,399.53 L524.7,399.53 L525.1,399.53 L525.5,399.54 L525.9,399.54 L526.3,399.54 L526.7,399.54 L527.1,399.55 L527.5,399.55 L527.9,399.55 L528.3,399.55 L528.7,399.56 L529.1,399.56 L529.5,399.56 L529.9,399.56 L530.3,399.57 L530.7,399.57 L531.1,399.57 L531.5,399.57 L531.9,399.57 L532.3,399.58 L532.7,399.58 L533.1,399.58 L533.5,399.58 L533.9,399.59 L534.3,399.59 L534.7,399.59 L535.1,399.59 L535.5,399.6 L535.9,399.6 L536.3,399.6 L536.7,399.6 L537.1,399.6 L537.5,399.61 L537.9,399.61 L538.3,399.61 L538.7,399.61 L539.1,399.62 L539.5,399.62 L539.9,399.62 L540.3,399.62 L540.7,399.62 L541.1,399.63 L541.5,399.63 L541.9,399.63 L542.3,399.63 L542.7,399.64 L543.1,399.64 L543.5,399.64 L543.9,399.64 L544.3,399.64 L544.7,399.65 L545.1,399.65 L545.5,399.65 L545.9,399.65 L546.3,399.65 L546.7,399.66 L547.1,399.66 L547.5,399.66 L547.9,399.66 L548.3,399.66 L548.7,399.67 L549.1,399.67 L549.5,399.67 L549.9,399.67 L550.3,399.67 L550.7,399.68 L551.1,399.68 L551.5,399.68 L551.9,399.68 L552.3,399.68 L552.7,399.68 L553.1,399.69 L553.5,399.69 L553.9,399.69 L554.3,399.69 L554.7,399.69 L555.1,399.7 L555.5,399.7 L555.9,399.7 L556.3,399.7 L556.7,399.7 L557.1,399.7 L557.5,399.71 L557.9,399.71 L558.3,399.71 L558.7,399.71 L559.1,399.71 L559.5,399.71 L559.9,399.72 L560.3,399.72 L560.7,399.72 L561.1,399.72 L561.5,399.72 L561.9,399.72 L562.3,399.72 L562.7,399.73 L563.1,399.73 L563.5,399.73 L563.9,399.73 L564.3,399.73 L564.7,399.73 L565.1,399.74 L565.5,399.74 L565.9,399.74 L566.3,399.74 L566.7,399.74 L567.1,399.74 L567.5,399.74 L567.9,399.74 L568.3,399.75 L568.7,399.75 L569.1,399.75 L569.5,399.75 L569.9,399.75 L570.3,399.75 L570.7,399.75 L571.1,399.75 L571.5,399.76 L571.9,399.76 L572.3,399.76 L572.7,399.76 L573.1,399.76 L573.5,399.76 L573.9,399.76 L574.3,399.76 L574.7,399.76 L575.1,399.77 L575.5,399.77 L575.9,399.77 L576.3,399.77 L576.7,399.77 L577.1,399.77 L577.5,399.77 L577.9,399.77 L578.3,399.77 L578.7,399.77 L579.1,399.78 L579.5,399.78 L579.9,399.78 L580.3,399.78 L580.7,399.78 L581.1,399.78 L581.5,399.78 L581.9,399.78 L582.3,399.78 L582.7,399.78 L583.1,399.78 L583.5,399.78 L583.9,399.79 L584.3,399.79 L584.7,399.79 L585.1,399.79 L585.5,399.79 L585.9,399.79 L586.3,399.79 L586.7,399.79 L587.1,399.79 L587.5,399.79 L587.9,399.79 L588.3,399.79 L588.7,399.79 L589.1,399.79 L589.5,399.79 L589.9,399.79 L590.3,399.79 L590.7,399.8 L591.1,399.8 L591.5,399.8 L591.9,399.8 L592.3,399.8 L592.7,399.8 L593.1,399.8 L593.5,399.8 L593.9,399.8 L594.3,399.8 L594.7,399.8 L595.1,399.8 L595.5,399.8 L595.9,399.8 L596.3,399.8 L596.7,399.8 L597.1,399.8 L597.5,399.8 L597.9,399.8 L598.3,399.8 L598.7,399.8 L599.1,399.8 L599.5,399.8 L599.9,399.8 L600.3,399.8 L600.7,399.8 L601.1,399.8 L601.5,399.8 L601.9,399.8 L602.3,399.8 L602.7,399.8 L603.1,399.8 L603.5,399.8 L603.9,399.79 L604.3,399.79 L604.7,399.79 L605.1,399.79 L605.5,399.79 L605.9,399.79 L606.3,399.79 L606.7,399.79 L607.1,399.78 L607.5,399.78 L607.9,399.78 L608.3,399.78 L608.7,399.78 L609.1,399.77 L609.5,399.77 L609.9,399.77 L610.3,399.77 L610.7,399.77 L611.1,399.76 L611.5,399.76 L611.9,399.76 L612.3,399.75 L612.7,399.75 L613.1,399.75 L613.5,399.75 L613.9,399.74 L614.3,399.74 L614.7,399.74 L615.1,399.73 L615.5,399.73 L615.9,399.73 L616.3,399.73 L616.7,399.72 L617.1,399.72 L617.5,399.72 L617.9,399.71 L618.3,399.71 L618.7,399.71 L619.1,399.7 L619.5,399.7 L619.9,399.69 L620.3,399.69 L620.7,399.69 L621.1,399.68 L621.5,399.68 L621.9,399.68 L622.3,399.67 L622.7,399.67 L623.1,399.67 L623.5,399.66 L623.9,399.66 L624.3,399.65 L624.7,399.65 L625.1,399.65 L625.5,399.64 L625.9,399.64 L626.3,399.64 L626.7,399.63 L627.1,399.63 L627.5,399.62 L627.9,399.62 L628.3,399.62 L628.7,399.61 L629.1,399.61 L629.5,399.6 L629.9,399.6 L630.3,399.6 L630.7,399.59 L631.1,399.59 L631.5,399.58 L631.9,399.58 L632.3,399.57 L632.7,399.57 L633.1,399.56 L633.5,399.55 L633.9,399.55 L634.3,399.54 L634.7,399.53 L635.1,399.52 L635.5,399.52 L635.9,399.51 L636.3,399.5 L636.7,399.49 L637.1,399.49 L637.5,399.48 L637.9,399.47 L638.3,399.46 L638.7,399.45 L639.1,399.44 L639.5,399.44 L639.9,399.43 L640.3,399.42 L640.7,399.41 L641.1,399.4 L641.5,399.4 L641.9,399.39 L642.3,399.38 L642.7,399.37 L643.1,399.37 L643.5,399.36 L643.9,399.35 L644.3,399.35 L644.7,399.34 L645.1,399.34 L645.5,399.33 L645.9,399.33 L646.3,399.32 L646.7,399.32 L647.1,399.31 L647.5,399.31 L647.9,399.31 L648.3,399.3 L648.7,399.3 L649.1,399.3 L649.5,399.3 L649.9,399.3 L650.3,399.3 L650.7,399.31 L651.1,399.32 L651.5,399.34 L651.9,399.36 L652.3,399.39 L652.7,399.41 L653.1,399.45 L653.5,399.48 L653.9,399.52 L654.3,399.56 L654.7,399.61 L655.1,399.65 L655.5,399.7 L655.9,399.75 L656.3,399.8 L656.7,399.84 L657.1,399.89 L657.5,399.94 L657.9,399.99 L658,400 L658.5,400" fill="none" stroke="#3a3a3a" stroke-width="0.75" stroke-linejoin="round"/>
<path d="M377.1,417.1 L377.5,416.97 L377.9,416.61 L378.3,416.04 L378.7,415.29 L379.1,414.38 L379.5,413.34 L379.9,412.2 L380.3,410.44 L380.7,407.72 L381.1,404.28 L381.5,400.39 L381.9,396.32 L382.3,391.55 L382.7,385.36 L383.1,379.66 L383.5,376.31 L383.9,374.09 L384.3,372.21 L384.7,370.87 L385.1,370.23 L385.5,370.63 L385.9,372.28 L386.3,374.64 L386.7,377.16 L387.1,379.45 L387.5,382.03 L387.9,384.63 L388.3,386.8 L388.7,388.52 L389.1,390.08 L389.5,391.51 L389.9,392.83 L390.3,394.07 L390.7,395.25 L391.1,396.41 L391.5,397.57 L391.9,398.71 L392.3,399.83 L392.7,400.89 L393.1,401.88 L393.5,402.76 L393.9,403.53 L394.3,404.19 L394.7,404.8 L395.1,405.38 L395.5,405.92 L395.9,406.43 L396.3,406.9 L396.7,407.34 L397.1,407.74 L397.5,408.12 L397.9,408.46 L398.3,408.78 L398.7,409.07 L399.1,409.36 L399.5,409.63 L399.9,409.9 L400.3,410.15 L400.7,410.4 L401.1,410.63 L401.5,410.86 L401.9,411.07 L402.3,411.27 L402.7,411.47 L403.1,411.65 L403.5,411.83 L403.9,411.99 L404.3,412.15 L404.7,412.3 L405.1,412.43 L405.5,412.56 L405.9,412.69 L406.3,412.81 L406.7,412.93 L407.1,413.05 L407.5,413.16 L407.9,413.27 L408.3,413.38 L408.7,413.48 L409.1,413.58 L409.5,413.68 L409.9,413.77 L410.3,413.86 L410.7,413.95 L411.1,414.03 L411.5,414.11 L411.9,414.19 L412.3,414.27 L412.7,414.34 L413.1,414.41 L413.5,414.47 L413.9,414.53 L414.3,414.59 L414.7,414.65 L415.1,414.7 L415.5,414.75 L415.9,414.8 L416.3,414.84 L416.7,414.88 L417.1,414.92 L417.5,414.96 L417.9,414.99 L418.3,415.02 L418.7,415.06 L419.1,415.09 L419.5,415.11 L419.9,415.14 L420.3,415.17 L420.7,415.2 L421.1,415.23 L421.5,415.25 L421.9,415.28 L422.3,415.31 L422.7,415.34 L423.1,415.37 L423.5,415.4 L423.9,415.44 L424.3,415.47 L424.7,415.51 L425.1,415.55 L425.5,415.59 L425.9,415.64 L426.3,415.69 L426.7,415.74 L427.1,415.81 L427.5,415.89 L427.9,415.98 L428.3,416.07 L428.7,416.17 L429.1,416.27 L429.5,416.36 L429.9,416.46 L430.3,416.55 L430.7,416.63 L431.1,416.69 L431.5,416.75 L431.9,416.79 L432.3,416.81 L432.7,416.83 L433.1,416.85 L433.5,416.87 L433.9,416.89 L434.3,416.9 L434.7,416.92 L435.1,416.94 L435.5,416.95 L435.9,416.97 L436.3,416.98 L436.7,416.99 L437.1,417 L437.5,417.02 L437.9,417.03 L438.3,417.04 L438.7,417.05 L439.1,417.06 L439.5,417.06 L439.9,417.07 L440.3,417.08 L440.7,417.08 L441.1,417.09 L441.5,417.09 L441.9,417.09 L442.3,417.1 L442.7,417.1 L443.1,417.1 L443.3,417.1 Z" fill="#bdd2ee"/>
<path d="M132.2,417.1 L377.1,417.1 L377.5,416.97 L377.9,416.61 L378.3,416.04 L378.7,415.29 L379.1,414.38 L379.5,413.34 L379.9,412.2 L380.3,410.44 L380.7,407.72 L381.1,404.28 L381.5,400.39 L381.9,396.32 L382.3,391.55 L382.7,385.36 L383.1,379.66 L383.5,376.31 L383.9,374.09 L384.3,372.21 L384.7,370.87 L385.1,370.23 L385.5,370.63 L385.9,372.28 L386.3,374.64 L386.7,377.16 L387.1,379.45 L387.5,382.03 L387.9,384.63 L388.3,386.8 L388.7,388.52 L389.1,390.08 L389.5,391.51 L389.9,392.83 L390.3,394.07 L390.7,395.25 L391.1,396.41 L391.5,397.57 L391.9,398.71 L392.3,399.83 L392.7,400.89 L393.1,401.88 L393.5,402.76 L393.9,403.53 L394.3,404.19 L394.7,404.8 L395.1,405.38 L395.5,405.92 L395.9,406.43 L396.3,406.9 L396.7,407.34 L397.1,407.74 L397.5,408.12 L397.9,408.46 L398.3,408.78 L398.7,409.07 L399.1,409.36 L399.5,409.63 L399.9,409.9 L400.3,410.15 L400.7,410.4 L401.1,410.63 L401.5,410.86 L401.9,411.07 L402.3,411.27 L402.7,411.47 L403.1,411.65 L403.5,411.83 L403.9,411.99 L404.3,412.15 L404.7,412.3 L405.1,412.43 L405.5,412.56 L405.9,412.69 L406.3,412.81 L406.7,412.93 L407.1,413.05 L407.5,413.16 L407.9,413.27 L408.3,413.38 L408.7,413.48 L409.1,413.58 L409.5,413.68 L409.9,413.77 L410.3,413.86 L410.7,413.95 L411.1,414.03 L411.5,414.11 L411.9,414.19 L412.3,414.27 L412.7,414.34 L413.1,414.41 L413.5,414.47 L413.9,414.53 L414.3,414.59 L414.7,414.65 L415.1,414.7 L415.5,414.75 L415.9,414.8 L416.3,414.84 L416.7,414.88 L417.1,414.92 L417.5,414.96 L417.9,414.99 L418.3,415.02 L418.7,415.06 L419.1,415.09 L419.5,415.11 L419.9,415.14 L420.3,415.17 L420.7,415.2 L421.1,415.23 L421.5,415.25 L421.9,415.28 L422.3,415.31 L422.7,415.34 L423.1,415.37 L423.5,415.4 L423.9,415.44 L424.3,415.47 L424.7,415.51 L425.1,415.55 L425.5,415.59 L425.9,415.64 L426.3,415.69 L426.7,415.74 L427.1,415.81 L427.5,415.89 L427.9,415.98 L428.3,416.07 L428.7,416.17 L429.1,416.27 L429.5,416.36 L429.9,416.46 L430.3,416.55 L430.7,416.63 L431.1,416.69 L431.5,416.75 L431.9,416.79 L432.3,416.81 L432.7,416.83 L433.1,416.85 L433.5,416.87 L433.9,416.89 L434.3,416.9 L434.7,416.92 L435.1,416.94 L435.5,416.95 L435.9,416.97 L436.3,416.98 L436.7,416.99 L437.1,417 L437.5,417.02 L437.9,417.03 L438.3,417.04 L438.7,417.05 L439.1,417.06 L439.5,417.06 L439.9,417.07 L440.3,417.08 L440.7,417.08 L441.1,417.09 L441.5,417.09 L441.9,417.09 L442.3,417.1 L442.7,417.1 L443.1,417.1 L443.3,417.1 L658.5,417.1" fill="none" stroke="#3a3a3a" stroke-width="0.75" stroke-linejoin="round"/>
<path d="M324.5,434.4 L324.9,434.09 L325.3,433.35 L325.7,432.3 L326.1,431.06 L326.5,429.67 L326.9,427.76 L327.3,425.33 L327.7,422.41 L328.1,419.06 L328.5,415.28 L328.9,410.01 L329.3,403.56 L329.7,396.82 L330.1,389.59 L330.5,381.85 L330.9,377.7 L331.3,375.75 L331.7,375.27 L332.1,376.67 L332.5,379.07 L332.9,382.16 L333.3,386.7 L333.7,391.73 L334.1,396.27 L334.5,400.8 L334.9,405.15 L335.3,408.64 L335.7,411.05 L336.1,413.16 L336.5,415.04 L336.9,416.7 L337.3,418.13 L337.7,419.36 L338.1,420.38 L338.5,421.24 L338.9,422.05 L339.3,422.82 L339.7,423.53 L340.1,424.2 L340.5,424.82 L340.9,425.38 L341.3,425.9 L341.7,426.36 L342.1,426.76 L342.5,427.12 L342.9,427.41 L343.3,427.66 L343.7,427.87 L344.1,428.08 L344.5,428.27 L344.9,428.46 L345.3,428.63 L345.7,428.79 L346.1,428.95 L346.5,429.09 L346.9,429.23 L347.3,429.35 L347.7,429.48 L348.1,429.59 L348.5,429.7 L348.9,429.8 L349.3,429.9 L349.7,430 L350.1,430.09 L350.5,430.17 L350.9,430.26 L351.3,430.34 L351.7,430.42 L352.1,430.5 L352.5,430.57 L352.9,430.64 L353.3,430.71 L353.7,430.78 L354.1,430.84 L354.5,430.9 L354.9,430.96 L355.3,431.02 L355.7,431.07 L356.1,431.13 L356.5,431.18 L356.9,431.23 L357.3,431.28 L357.7,431.33 L358.1,431.38 L358.5,431.43 L358.9,431.48 L359.3,431.53 L359.7,431.57 L360.1,431.62 L360.5,431.67 L360.9,431.72 L361.3,431.77 L361.7,431.83 L362.1,431.88 L362.5,431.92 L362.9,431.97 L363.3,432.01 L363.7,432.05 L364.1,432.09 L364.5,432.13 L364.9,432.17 L365.3,432.21 L365.7,432.25 L366.1,432.29 L366.5,432.33 L366.9,432.37 L367.3,432.41 L367.7,432.46 L368.1,432.51 L368.5,432.55 L368.9,432.61 L369.3,432.66 L369.7,432.72 L370.1,432.78 L370.5,432.85 L370.9,432.92 L371.3,433 L371.7,433.11 L372.1,433.25 L372.5,433.42 L372.9,433.6 L373.3,433.77 L373.7,433.9 L374.1,433.99 L374.5,434.03 L374.9,434.07 L375.3,434.1 L375.7,434.14 L376.1,434.17 L376.5,434.2 L376.9,434.23 L377.3,434.25 L377.7,434.28 L378.1,434.3 L378.5,434.32 L378.9,434.34 L379.3,434.35 L379.7,434.36 L380.1,434.38 L380.5,434.38 L380.9,434.39 L381.3,434.4 L381.7,434.4 L382,434.4 Z" fill="#bdd2ee"/>
<path d="M132.2,434.4 L324.5,434.4 L324.9,434.09 L325.3,433.35 L325.7,432.3 L326.1,431.06 L326.5,429.67 L326.9,427.76 L327.3,425.33 L327.7,422.41 L328.1,419.06 L328.5,415.28 L328.9,410.01 L329.3,403.56 L329.7,396.82 L330.1,389.59 L330.5,381.85 L330.9,377.7 L331.3,375.75 L331.7,375.27 L332.1,376.67 L332.5,379.07 L332.9,382.16 L333.3,386.7 L333.7,391.73 L334.1,396.27 L334.5,400.8 L334.9,405.15 L335.3,408.64 L335.7,411.05 L336.1,413.16 L336.5,415.04 L336.9,416.7 L337.3,418.13 L337.7,419.36 L338.1,420.38 L338.5,421.24 L338.9,422.05 L339.3,422.82 L339.7,423.53 L340.1,424.2 L340.5,424.82 L340.9,425.38 L341.3,425.9 L341.7,426.36 L342.1,426.76 L342.5,427.12 L342.9,427.41 L343.3,427.66 L343.7,427.87 L344.1,428.08 L344.5,428.27 L344.9,428.46 L345.3,428.63 L345.7,428.79 L346.1,428.95 L346.5,429.09 L346.9,429.23 L347.3,429.35 L347.7,429.48 L348.1,429.59 L348.5,429.7 L348.9,429.8 L349.3,429.9 L349.7,430 L350.1,430.09 L350.5,430.17 L350.9,430.26 L351.3,430.34 L351.7,430.42 L352.1,430.5 L352.5,430.57 L352.9,430.64 L353.3,430.71 L353.7,430.78 L354.1,430.84 L354.5,430.9 L354.9,430.96 L355.3,431.02 L355.7,431.07 L356.1,431.13 L356.5,431.18 L356.9,431.23 L357.3,431.28 L357.7,431.33 L358.1,431.38 L358.5,431.43 L358.9,431.48 L359.3,431.53 L359.7,431.57 L360.1,431.62 L360.5,431.67 L360.9,431.72 L361.3,431.77 L361.7,431.83 L362.1,431.88 L362.5,431.92 L362.9,431.97 L363.3,432.01 L363.7,432.05 L364.1,432.09 L364.5,432.13 L364.9,432.17 L365.3,432.21 L365.7,432.25 L366.1,432.29 L366.5,432.33 L366.9,432.37 L367.3,432.41 L367.7,432.46 L368.1,432.51 L368.5,432.55 L368.9,432.61 L369.3,432.66 L369.7,432.72 L370.1,432.78 L370.5,432.85 L370.9,432.92 L371.3,433 L371.7,433.11 L372.1,433.25 L372.5,433.42 L372.9,433.6 L373.3,433.77 L373.7,433.9 L374.1,433.99 L374.5,434.03 L374.9,434.07 L375.3,434.1 L375.7,434.14 L376.1,434.17 L376.5,434.2 L376.9,434.23 L377.3,434.25 L377.7,434.28 L378.1,434.3 L378.5,434.32 L378.9,434.34 L379.3,434.35 L379.7,434.36 L380.1,434.38 L380.5,434.38 L380.9,434.39 L381.3,434.4 L381.7,434.4 L382,434.4 L658.5,434.4" fill="none" stroke="#3a3a3a" stroke-width="0.75" stroke-linejoin="round"/>
<path d="M315.5,451.5 L315.9,450.9 L316.3,449.28 L316.7,446.95 L317.1,444.03 L317.5,437.99 L317.9,429.74 L318.3,421.76 L318.7,415.51 L319.1,409.75 L319.5,404.51 L319.9,399.45 L320.3,395.35 L320.7,394.13 L321.1,393.47 L321.5,393.32 L321.9,393.82 L322.3,394.89 L322.7,397.35 L323.1,404.31 L323.5,411.46 L323.9,419.07 L324.3,424.11 L324.7,427.31 L325.1,429.89 L325.5,431.94 L325.9,433.55 L326.3,434.88 L326.7,436.09 L327.1,437.19 L327.5,438.2 L327.9,439.11 L328.3,439.92 L328.7,440.65 L329.1,441.28 L329.5,441.83 L329.9,442.3 L330.3,442.72 L330.7,443.11 L331.1,443.48 L331.5,443.83 L331.9,444.16 L332.3,444.47 L332.7,444.76 L333.1,445.03 L333.5,445.29 L333.9,445.53 L334.3,445.76 L334.7,445.97 L335.1,446.17 L335.5,446.36 L335.9,446.54 L336.3,446.7 L336.7,446.86 L337.1,447.01 L337.5,447.16 L337.9,447.3 L338.3,447.43 L338.7,447.56 L339.1,447.68 L339.5,447.79 L339.9,447.91 L340.3,448.01 L340.7,448.12 L341.1,448.22 L341.5,448.31 L341.9,448.4 L342.3,448.49 L342.7,448.57 L343.1,448.66 L343.5,448.73 L343.9,448.81 L344.3,448.88 L344.7,448.95 L345.1,449.02 L345.5,449.09 L345.9,449.15 L346.3,449.21 L346.7,449.27 L347.1,449.33 L347.5,449.39 L347.9,449.44 L348.3,449.5 L348.7,449.55 L349.1,449.6 L349.5,449.65 L349.9,449.7 L350.3,449.75 L350.7,449.8 L351.1,449.85 L351.5,449.89 L351.9,449.94 L352.3,449.98 L352.7,450.03 L353.1,450.07 L353.5,450.12 L353.9,450.16 L354.3,450.21 L354.7,450.25 L355.1,450.3 L355.5,450.35 L355.9,450.39 L356.3,450.44 L356.7,450.48 L357.1,450.53 L357.5,450.57 L357.9,450.62 L358.3,450.66 L358.7,450.7 L359.1,450.75 L359.5,450.79 L359.9,450.83 L360.3,450.87 L360.7,450.91 L361.1,450.96 L361.5,451 L361.9,451.04 L362.3,451.08 L362.7,451.12 L363.1,451.16 L363.5,451.2 L363.9,451.23 L364.3,451.27 L364.7,451.31 L365.1,451.35 L365.5,451.38 L365.9,451.42 L366.3,451.46 L366.7,451.49 L366.8,451.5 Z" fill="#bdd2ee"/>
<path d="M132.2,451.5 L315.5,451.5 L315.9,450.9 L316.3,449.28 L316.7,446.95 L317.1,444.03 L317.5,437.99 L317.9,429.74 L318.3,421.76 L318.7,415.51 L319.1,409.75 L319.5,404.51 L319.9,399.45 L320.3,395.35 L320.7,394.13 L321.1,393.47 L321.5,393.32 L321.9,393.82 L322.3,394.89 L322.7,397.35 L323.1,404.31 L323.5,411.46 L323.9,419.07 L324.3,424.11 L324.7,427.31 L325.1,429.89 L325.5,431.94 L325.9,433.55 L326.3,434.88 L326.7,436.09 L327.1,437.19 L327.5,438.2 L327.9,439.11 L328.3,439.92 L328.7,440.65 L329.1,441.28 L329.5,441.83 L329.9,442.3 L330.3,442.72 L330.7,443.11 L331.1,443.48 L331.5,443.83 L331.9,444.16 L332.3,444.47 L332.7,444.76 L333.1,445.03 L333.5,445.29 L333.9,445.53 L334.3,445.76 L334.7,445.97 L335.1,446.17 L335.5,446.36 L335.9,446.54 L336.3,446.7 L336.7,446.86 L337.1,447.01 L337.5,447.16 L337.9,447.3 L338.3,447.43 L338.7,447.56 L339.1,447.68 L339.5,447.79 L339.9,447.91 L340.3,448.01 L340.7,448.12 L341.1,448.22 L341.5,448.31 L341.9,448.4 L342.3,448.49 L342.7,448.57 L343.1,448.66 L343.5,448.73 L343.9,448.81 L344.3,448.88 L344.7,448.95 L345.1,449.02 L345.5,449.09 L345.9,449.15 L346.3,449.21 L346.7,449.27 L347.1,449.33 L347.5,449.39 L347.9,449.44 L348.3,449.5 L348.7,449.55 L349.1,449.6 L349.5,449.65 L349.9,449.7 L350.3,449.75 L350.7,449.8 L351.1,449.85 L351.5,449.89 L351.9,449.94 L352.3,449.98 L352.7,450.03 L353.1,450.07 L353.5,450.12 L353.9,450.16 L354.3,450.21 L354.7,450.25 L355.1,450.3 L355.5,450.35 L355.9,450.39 L356.3,450.44 L356.7,450.48 L357.1,450.53 L357.5,450.57 L357.9,450.62 L358.3,450.66 L358.7,450.7 L359.1,450.75 L359.5,450.79 L359.9,450.83 L360.3,450.87 L360.7,450.91 L361.1,450.96 L361.5,451 L361.9,451.04 L362.3,451.08 L362.7,451.12 L363.1,451.16 L363.5,451.2 L363.9,451.23 L364.3,451.27 L364.7,451.31 L365.1,451.35 L365.5,451.38 L365.9,451.42 L366.3,451.46 L366.7,451.49 L366.8,451.5 L658.5,451.5" fill="none" stroke="#3a3a3a" stroke-width="0.75" stroke-linejoin="round"/>
<path d="M308.4,469 L308.8,468.32 L309.2,467 L309.6,465.23 L310,463.2 L310.4,460.6 L310.8,457.1 L311.2,452.89 L311.6,448.13 L312,441.9 L312.4,434.7 L312.8,427.07 L313.2,418.35 L313.6,413.51 L314,411.17 L314.4,409.96 L314.8,410.69 L315.2,412.91 L315.6,414.59 L316,418.38 L316.4,426.4 L316.8,433.33 L317.2,438.7 L317.6,441.91 L318,444.56 L318.4,446.7 L318.8,448.39 L319.2,449.7 L319.6,450.8 L320,451.77 L320.4,452.62 L320.8,453.37 L321.2,454.04 L321.6,454.65 L322,455.22 L322.4,455.77 L322.8,456.29 L323.2,456.79 L323.6,457.27 L324,457.72 L324.4,458.15 L324.8,458.56 L325.2,458.95 L325.6,459.32 L326,459.68 L326.4,460.01 L326.8,460.32 L327.2,460.62 L327.6,460.9 L328,461.17 L328.4,461.43 L328.8,461.68 L329.2,461.92 L329.6,462.16 L330,462.39 L330.4,462.61 L330.8,462.82 L331.2,463.03 L331.6,463.22 L332,463.41 L332.4,463.6 L332.8,463.78 L333.2,463.95 L333.6,464.11 L334,464.27 L334.4,464.42 L334.8,464.56 L335.2,464.7 L335.6,464.83 L336,464.97 L336.4,465.09 L336.8,465.22 L337.2,465.34 L337.6,465.47 L338,465.58 L338.4,465.7 L338.8,465.81 L339.2,465.92 L339.6,466.03 L340,466.13 L340.4,466.23 L340.8,466.32 L341.2,466.42 L341.6,466.5 L342,466.59 L342.4,466.67 L342.8,466.74 L343.2,466.81 L343.6,466.88 L344,466.94 L344.4,467 L344.8,467.05 L345.2,467.1 L345.6,467.15 L346,467.19 L346.4,467.22 L346.8,467.26 L347.2,467.29 L347.6,467.32 L348,467.35 L348.4,467.38 L348.8,467.4 L349.2,467.43 L349.6,467.45 L350,467.48 L350.4,467.51 L350.8,467.53 L351.2,467.56 L351.6,467.59 L352,467.63 L352.4,467.66 L352.8,467.7 L353.2,467.74 L353.6,467.79 L354,467.84 L354.4,467.89 L354.8,467.95 L355.2,468.02 L355.6,468.11 L356,468.22 L356.4,468.36 L356.8,468.51 L357.2,468.67 L357.6,468.84 L358,469 L358,469 Z" fill="#bdd2ee"/>
<path d="M132.2,469 L308.4,469 L308.8,468.32 L309.2,467 L309.6,465.23 L310,463.2 L310.4,460.6 L310.8,457.1 L311.2,452.89 L311.6,448.13 L312,441.9 L312.4,434.7 L312.8,427.07 L313.2,418.35 L313.6,413.51 L314,411.17 L314.4,409.96 L314.8,410.69 L315.2,412.91 L315.6,414.59 L316,418.38 L316.4,426.4 L316.8,433.33 L317.2,438.7 L317.6,441.91 L318,444.56 L318.4,446.7 L318.8,448.39 L319.2,449.7 L319.6,450.8 L320,451.77 L320.4,452.62 L320.8,453.37 L321.2,454.04 L321.6,454.65 L322,455.22 L322.4,455.77 L322.8,456.29 L323.2,456.79 L323.6,457.27 L324,457.72 L324.4,458.15 L324.8,458.56 L325.2,458.95 L325.6,459.32 L326,459.68 L326.4,460.01 L326.8,460.32 L327.2,460.62 L327.6,460.9 L328,461.17 L328.4,461.43 L328.8,461.68 L329.2,461.92 L329.6,462.16 L330,462.39 L330.4,462.61 L330.8,462.82 L331.2,463.03 L331.6,463.22 L332,463.41 L332.4,463.6 L332.8,463.78 L333.2,463.95 L333.6,464.11 L334,464.27 L334.4,464.42 L334.8,464.56 L335.2,464.7 L335.6,464.83 L336,464.97 L336.4,465.09 L336.8,465.22 L337.2,465.34 L337.6,465.47 L338,465.58 L338.4,465.7 L338.8,465.81 L339.2,465.92 L339.6,466.03 L340,466.13 L340.4,466.23 L340.8,466.32 L341.2,466.42 L341.6,466.5 L342,466.59 L342.4,466.67 L342.8,466.74 L343.2,466.81 L343.6,466.88 L344,466.94 L344.4,467 L344.8,467.05 L345.2,467.1 L345.6,467.15 L346,467.19 L346.4,467.22 L346.8,467.26 L347.2,467.29 L347.6,467.32 L348,467.35 L348.4,467.38 L348.8,467.4 L349.2,467.43 L349.6,467.45 L350,467.48 L350.4,467.51 L350.8,467.53 L351.2,467.56 L351.6,467.59 L352,467.63 L352.4,467.66 L352.8,467.7 L353.2,467.74 L353.6,467.79 L354,467.84 L354.4,467.89 L354.8,467.95 L355.2,468.02 L355.6,468.11 L356,468.22 L356.4,468.36 L356.8,468.51 L357.2,468.67 L357.6,468.84 L358,469 L358,469 L658.5,469" fill="none" stroke="#3a3a3a" stroke-width="0.75" stroke-linejoin="round"/>
<path d="M179.9,486.4 L180.3,486.11 L180.7,485.79 L181.1,485.45 L181.5,485.08 L181.9,484.7 L182.3,484.3 L182.7,483.89 L183.1,483.47 L183.5,483.02 L183.9,482.54 L184.3,482.01 L184.7,481.42 L185.1,480.77 L185.5,480.05 L185.9,479.2 L186.3,478.15 L186.7,476.8 L187.1,474.7 L187.5,471.45 L187.9,466.36 L188.3,457.37 L188.7,449.1 L189.1,442.1 L189.5,436.13 L189.9,431.36 L190.3,427.87 L190.7,426.87 L191.1,426.37 L191.5,426.89 L191.9,430.24 L192.3,434.97 L192.7,441.57 L193.1,448.02 L193.5,454.5 L193.9,459.31 L194.3,463.25 L194.7,465.7 L195.1,466.82 L195.5,467.58 L195.9,468.18 L196.3,468.8 L196.7,469.64 L197.1,470.67 L197.5,471.81 L197.9,472.99 L198.3,474.13 L198.7,475.21 L199.1,476.32 L199.5,477.39 L199.9,478.4 L200.3,479.3 L200.7,480.19 L201.1,481.1 L201.5,481.87 L201.9,482.33 L202.3,482.39 L202.7,482.35 L203.1,482.27 L203.5,482.16 L203.9,482.03 L204.3,481.9 L204.7,481.77 L205.1,481.58 L205.5,481.34 L205.9,481.07 L206.3,480.83 L206.7,480.63 L207.1,480.52 L207.5,480.52 L207.9,480.65 L208.3,480.89 L208.7,481.2 L209.1,481.54 L209.5,481.88 L209.9,482.2 L210.3,482.46 L210.7,482.7 L211.1,482.93 L211.5,483.16 L211.9,483.39 L212.3,483.6 L212.7,483.79 L213.1,483.96 L213.5,484.12 L213.9,484.28 L214.3,484.44 L214.7,484.6 L215.1,484.75 L215.5,484.87 L215.9,484.98 L216.3,485.05 L216.7,485.09 L217.1,485.09 L217.5,485.05 L217.9,484.98 L218.3,484.88 L218.7,484.76 L219.1,484.63 L219.5,484.51 L219.9,484.4 L220.3,484.3 L220.7,484.23 L221.1,484.2 L221.5,484.21 L221.9,484.25 L222.3,484.32 L222.7,484.41 L223.1,484.52 L223.5,484.64 L223.9,484.76 L224.3,484.88 L224.7,485 L225.1,485.1 L225.5,485.18 L225.9,485.25 L226.3,485.31 L226.7,485.36 L227.1,485.41 L227.5,485.46 L227.9,485.51 L228.3,485.56 L228.7,485.61 L229.1,485.67 L229.5,485.73 L229.9,485.8 L230.3,485.87 L230.7,485.94 L231.1,486.01 L231.5,486.09 L231.9,486.17 L232.3,486.25 L232.7,486.34 L233,486.4 Z" fill="#f96767"/>
<path d="M132.2,486.4 L179.9,486.4 L180.3,486.11 L180.7,485.79 L181.1,485.45 L181.5,485.08 L181.9,484.7 L182.3,484.3 L182.7,483.89 L183.1,483.47 L183.5,483.02 L183.9,482.54 L184.3,482.01 L184.7,481.42 L185.1,480.77 L185.5,480.05 L185.9,479.2 L186.3,478.15 L186.7,476.8 L187.1,474.7 L187.5,471.45 L187.9,466.36 L188.3,457.37 L188.7,449.1 L189.1,442.1 L189.5,436.13 L189.9,431.36 L190.3,427.87 L190.7,426.87 L191.1,426.37 L191.5,426.89 L191.9,430.24 L192.3,434.97 L192.7,441.57 L193.1,448.02 L193.5,454.5 L193.9,459.31 L194.3,463.25 L194.7,465.7 L195.1,466.82 L195.5,467.58 L195.9,468.18 L196.3,468.8 L196.7,469.64 L197.1,470.67 L197.5,471.81 L197.9,472.99 L198.3,474.13 L198.7,475.21 L199.1,476.32 L199.5,477.39 L199.9,478.4 L200.3,479.3 L200.7,480.19 L201.1,481.1 L201.5,481.87 L201.9,482.33 L202.3,482.39 L202.7,482.35 L203.1,482.27 L203.5,482.16 L203.9,482.03 L204.3,481.9 L204.7,481.77 L205.1,481.58 L205.5,481.34 L205.9,481.07 L206.3,480.83 L206.7,480.63 L207.1,480.52 L207.5,480.52 L207.9,480.65 L208.3,480.89 L208.7,481.2 L209.1,481.54 L209.5,481.88 L209.9,482.2 L210.3,482.46 L210.7,482.7 L211.1,482.93 L211.5,483.16 L211.9,483.39 L212.3,483.6 L212.7,483.79 L213.1,483.96 L213.5,484.12 L213.9,484.28 L214.3,484.44 L214.7,484.6 L215.1,484.75 L215.5,484.87 L215.9,484.98 L216.3,485.05 L216.7,485.09 L217.1,485.09 L217.5,485.05 L217.9,484.98 L218.3,484.88 L218.7,484.76 L219.1,484.63 L219.5,484.51 L219.9,484.4 L220.3,484.3 L220.7,484.23 L221.1,484.2 L221.5,484.21 L221.9,484.25 L222.3,484.32 L222.7,484.41 L223.1,484.52 L223.5,484.64 L223.9,484.76 L224.3,484.88 L224.7,485 L225.1,485.1 L225.5,485.18 L225.9,485.25 L226.3,485.31 L226.7,485.36 L227.1,485.41 L227.5,485.46 L227.9,485.51 L228.3,485.56 L228.7,485.61 L229.1,485.67 L229.5,485.73 L229.9,485.8 L230.3,485.87 L230.7,485.94 L231.1,486.01 L231.5,486.09 L231.9,486.17 L232.3,486.25 L232.7,486.34 L233,486.4 L658.5,486.4" fill="none" stroke="#3a3a3a" stroke-width="0.75" stroke-linejoin="round"/>
<path d="M147.3,503.5 L147.7,502.14 L148.1,500.82 L148.5,499.54 L148.9,498.3 L149.3,497.09 L149.7,495.74 L150.1,494.45 L150.5,493.6 L150.9,493.28 L151.3,493.05 L151.7,492.88 L152.1,492.8 L152.5,492.86 L152.9,493.06 L153.3,493.3 L153.7,493.47 L154.1,493.41 L154.5,492.77 L154.9,491.72 L155.3,490.5 L155.7,489.27 L156.1,487.75 L156.5,486.05 L156.9,484.32 L157.3,482.69 L157.7,481.1 L158.1,479.44 L158.5,477.6 L158.9,475.36 L159.3,472.76 L159.7,470.09 L160.1,467.63 L160.5,465.7 L160.9,464.08 L161.3,462.49 L161.7,461.12 L162.1,460.16 L162.5,459.8 L162.9,460.42 L163.3,461.95 L163.7,463.9 L164.1,466.42 L164.5,470.1 L164.9,473.67 L165.3,476.02 L165.7,477.75 L166.1,479.19 L166.5,480.56 L166.9,482.05 L167.3,483.83 L167.7,485.84 L168.1,487.94 L168.5,490.04 L168.9,492.49 L169.3,494.57 L169.7,495.38 L170.1,495.85 L170.5,496.22 L170.9,496.51 L171.3,496.75 L171.7,496.95 L172.1,497.14 L172.5,497.35 L172.9,497.56 L173.3,497.78 L173.7,497.99 L174.1,498.2 L174.5,498.4 L174.9,498.59 L175.3,498.78 L175.7,498.95 L176.1,499.12 L176.5,499.27 L176.9,499.41 L177.3,499.54 L177.7,499.66 L178.1,499.76 L178.5,499.84 L178.9,499.91 L179.3,499.98 L179.7,500.03 L180.1,500.08 L180.5,500.13 L180.9,500.18 L181.3,500.22 L181.7,500.27 L182.1,500.32 L182.5,500.38 L182.9,500.44 L183.3,500.52 L183.7,500.61 L184.1,500.72 L184.5,500.85 L184.9,500.98 L185.3,501.13 L185.7,501.27 L186.1,501.41 L186.5,501.55 L186.9,501.69 L187.3,501.81 L187.7,501.91 L188.1,502 L188.5,502.08 L188.9,502.16 L189.3,502.23 L189.7,502.31 L190.1,502.38 L190.5,502.45 L190.9,502.52 L191.3,502.57 L191.7,502.62 L192.1,502.66 L192.5,502.68 L192.9,502.7 L193.3,502.7 L193.7,502.66 L194.1,502.6 L194.5,502.52 L194.9,502.42 L195.3,502.33 L195.7,502.23 L196.1,502.14 L196.5,502.07 L196.9,502.02 L197.3,502 L197.7,502.03 L198.1,502.11 L198.5,502.22 L198.9,502.36 L199.3,502.51 L199.7,502.67 L200.1,502.81 L200.5,502.93 L200.9,503.02 L201.3,503.09 L201.7,503.16 L202.1,503.23 L202.5,503.29 L202.9,503.35 L203.3,503.4 L203.7,503.44 L204.1,503.48 L204.4,503.5 Z" fill="#f96767"/>
<path d="M132.2,503.5 L147.3,503.5 L147.7,502.14 L148.1,500.82 L148.5,499.54 L148.9,498.3 L149.3,497.09 L149.7,495.74 L150.1,494.45 L150.5,493.6 L150.9,493.28 L151.3,493.05 L151.7,492.88 L152.1,492.8 L152.5,492.86 L152.9,493.06 L153.3,493.3 L153.7,493.47 L154.1,493.41 L154.5,492.77 L154.9,491.72 L155.3,490.5 L155.7,489.27 L156.1,487.75 L156.5,486.05 L156.9,484.32 L157.3,482.69 L157.7,481.1 L158.1,479.44 L158.5,477.6 L158.9,475.36 L159.3,472.76 L159.7,470.09 L160.1,467.63 L160.5,465.7 L160.9,464.08 L161.3,462.49 L161.7,461.12 L162.1,460.16 L162.5,459.8 L162.9,460.42 L163.3,461.95 L163.7,463.9 L164.1,466.42 L164.5,470.1 L164.9,473.67 L165.3,476.02 L165.7,477.75 L166.1,479.19 L166.5,480.56 L166.9,482.05 L167.3,483.83 L167.7,485.84 L168.1,487.94 L168.5,490.04 L168.9,492.49 L169.3,494.57 L169.7,495.38 L170.1,495.85 L170.5,496.22 L170.9,496.51 L171.3,496.75 L171.7,496.95 L172.1,497.14 L172.5,497.35 L172.9,497.56 L173.3,497.78 L173.7,497.99 L174.1,498.2 L174.5,498.4 L174.9,498.59 L175.3,498.78 L175.7,498.95 L176.1,499.12 L176.5,499.27 L176.9,499.41 L177.3,499.54 L177.7,499.66 L178.1,499.76 L178.5,499.84 L178.9,499.91 L179.3,499.98 L179.7,500.03 L180.1,500.08 L180.5,500.13 L180.9,500.18 L181.3,500.22 L181.7,500.27 L182.1,500.32 L182.5,500.38 L182.9,500.44 L183.3,500.52 L183.7,500.61 L184.1,500.72 L184.5,500.85 L184.9,500.98 L185.3,501.13 L185.7,501.27 L186.1,501.41 L186.5,501.55 L186.9,501.69 L187.3,501.81 L187.7,501.91 L188.1,502 L188.5,502.08 L188.9,502.16 L189.3,502.23 L189.7,502.31 L190.1,502.38 L190.5,502.45 L190.9,502.52 L191.3,502.57 L191.7,502.62 L192.1,502.66 L192.5,502.68 L192.9,502.7 L193.3,502.7 L193.7,502.66 L194.1,502.6 L194.5,502.52 L194.9,502.42 L195.3,502.33 L195.7,502.23 L196.1,502.14 L196.5,502.07 L196.9,502.02 L197.3,502 L197.7,502.03 L198.1,502.11 L198.5,502.22 L198.9,502.36 L199.3,502.51 L199.7,502.67 L200.1,502.81 L200.5,502.93 L200.9,503.02 L201.3,503.09 L201.7,503.16 L202.1,503.23 L202.5,503.29 L202.9,503.35 L203.3,503.4 L203.7,503.44 L204.1,503.48 L204.4,503.5 L658.5,503.5" fill="none" stroke="#3a3a3a" stroke-width="0.75" stroke-linejoin="round"/>
<path d="M149.9,521.4 L150.3,521.14 L150.7,520.42 L151.1,519.32 L151.5,517.92 L151.9,516.3 L152.3,513.27 L152.7,508.65 L153.1,504.06 L153.5,500.45 L153.9,497.03 L154.3,493.79 L154.7,490.75 L155.1,487.96 L155.5,485.27 L155.9,482.6 L156.3,480.58 L156.7,479.62 L157.1,479.13 L157.5,479.48 L157.9,480.8 L158.3,482.43 L158.7,484.76 L159.1,487.67 L159.5,490.65 L159.9,493.18 L160.3,495.48 L160.7,497.7 L161.1,499.75 L161.5,501.59 L161.9,503.16 L162.3,504.57 L162.7,505.85 L163.1,506.99 L163.5,508 L163.9,509 L164.3,509.98 L164.7,510.78 L165.1,511.18 L165.5,511.18 L165.9,511.11 L166.3,511.01 L166.7,510.88 L167.1,510.75 L167.5,510.63 L167.9,510.55 L168.3,510.5 L168.7,510.61 L169.1,511.02 L169.5,511.54 L169.9,512.01 L170.3,512.53 L170.7,513.11 L171.1,513.7 L171.5,514.21 L171.9,514.56 L172.3,514.7 L172.7,514.64 L173.1,514.48 L173.5,514.26 L173.9,514 L174.3,513.74 L174.7,513.52 L175.1,513.36 L175.5,513.3 L175.9,513.49 L176.3,513.95 L176.7,514.47 L177.1,514.92 L177.5,515.44 L177.9,516 L178.3,516.56 L178.7,517.06 L179.1,517.45 L179.5,517.67 L179.9,517.69 L180.3,517.65 L180.7,517.57 L181.1,517.46 L181.5,517.33 L181.9,517.19 L182.3,517.04 L182.7,516.9 L183.1,516.77 L183.5,516.65 L183.9,516.57 L184.3,516.51 L184.7,516.5 L185.1,516.57 L185.5,516.71 L185.9,516.91 L186.3,517.15 L186.7,517.4 L187.1,517.66 L187.5,517.91 L187.9,518.11 L188.3,518.28 L188.7,518.45 L189.1,518.62 L189.5,518.8 L189.9,518.97 L190.3,519.13 L190.7,519.28 L191.1,519.4 L191.5,519.5 L191.9,519.57 L192.3,519.6 L192.7,519.58 L193.1,519.5 L193.5,519.37 L193.9,519.21 L194.3,519.04 L194.7,518.87 L195.1,518.73 L195.5,518.64 L195.9,518.6 L196.3,518.64 L196.7,518.77 L197.1,518.95 L197.5,519.18 L197.9,519.43 L198.3,519.69 L198.7,519.94 L199.1,520.16 L199.5,520.34 L199.9,520.5 L200.3,520.66 L200.7,520.8 L201.1,520.95 L201.5,521.09 L201.9,521.22 L202.3,521.34 L202.5,521.4 Z" fill="#f96767"/>
<path d="M132.2,521.4 L149.9,521.4 L150.3,521.14 L150.7,520.42 L151.1,519.32 L151.5,517.92 L151.9,516.3 L152.3,513.27 L152.7,508.65 L153.1,504.06 L153.5,500.45 L153.9,497.03 L154.3,493.79 L154.7,490.75 L155.1,487.96 L155.5,485.27 L155.9,482.6 L156.3,480.58 L156.7,479.62 L157.1,479.13 L157.5,479.48 L157.9,480.8 L158.3,482.43 L158.7,484.76 L159.1,487.67 L159.5,490.65 L159.9,493.18 L160.3,495.48 L160.7,497.7 L161.1,499.75 L161.5,501.59 L161.9,503.16 L162.3,504.57 L162.7,505.85 L163.1,506.99 L163.5,508 L163.9,509 L164.3,509.98 L164.7,510.78 L165.1,511.18 L165.5,511.18 L165.9,511.11 L166.3,511.01 L166.7,510.88 L167.1,510.75 L167.5,510.63 L167.9,510.55 L168.3,510.5 L168.7,510.61 L169.1,511.02 L169.5,511.54 L169.9,512.01 L170.3,512.53 L170.7,513.11 L171.1,513.7 L171.5,514.21 L171.9,514.56 L172.3,514.7 L172.7,514.64 L173.1,514.48 L173.5,514.26 L173.9,514 L174.3,513.74 L174.7,513.52 L175.1,513.36 L175.5,513.3 L175.9,513.49 L176.3,513.95 L176.7,514.47 L177.1,514.92 L177.5,515.44 L177.9,516 L178.3,516.56 L178.7,517.06 L179.1,517.45 L179.5,517.67 L179.9,517.69 L180.3,517.65 L180.7,517.57 L181.1,517.46 L181.5,517.33 L181.9,517.19 L182.3,517.04 L182.7,516.9 L183.1,516.77 L183.5,516.65 L183.9,516.57 L184.3,516.51 L184.7,516.5 L185.1,516.57 L185.5,516.71 L185.9,516.91 L186.3,517.15 L186.7,517.4 L187.1,517.66 L187.5,517.91 L187.9,518.11 L188.3,518.28 L188.7,518.45 L189.1,518.62 L189.5,518.8 L189.9,518.97 L190.3,519.13 L190.7,519.28 L191.1,519.4 L191.5,519.5 L191.9,519.57 L192.3,519.6 L192.7,519.58 L193.1,519.5 L193.5,519.37 L193.9,519.21 L194.3,519.04 L194.7,518.87 L195.1,518.73 L195.5,518.64 L195.9,518.6 L196.3,518.64 L196.7,518.77 L197.1,518.95 L197.5,519.18 L197.9,519.43 L198.3,519.69 L198.7,519.94 L199.1,520.16 L199.5,520.34 L199.9,520.5 L200.3,520.66 L200.7,520.8 L201.1,520.95 L201.5,521.09 L201.9,521.22 L202.3,521.34 L202.5,521.4 L658.5,521.4" fill="none" stroke="#3a3a3a" stroke-width="0.75" stroke-linejoin="round"/>
<g fill="#4d4d4d" font-size="10.83" text-anchor="end">
<text x="103.3" y="369.8">ENSG00000091704</text>
<text x="103.3" y="387.11">ENSG00000168928</text>
<text x="103.3" y="404.42">ENSG00000010438</text>
<text x="103.3" y="421.73">ENSG00000198763</text>
<text x="103.3" y="439.04">ENSG00000138161</text>
<text x="103.3" y="456.35">ENSG00000142676</text>
<text x="103.3" y="473.66">ENSG00000254772</text>
<text x="103.3" y="490.97">ENSG00000154556</text>
<text x="103.3" y="508.28">ENSG00000198561</text>
<text x="103.3" y="525.59">ENSG00000140688</text>
</g>
<g fill="#4d4d4d" font-size="12.5" text-anchor="middle">
<text x="240.3" y="542.6">2</text>
<text x="457.6" y="542.6">4</text>
<text x="674.7" y="542.6">6</text>
</g>
<text x="291.1" y="561.5" font-size="20.4" fill="#000">Log10(TPM)</text>
</svg>
</body></html>
